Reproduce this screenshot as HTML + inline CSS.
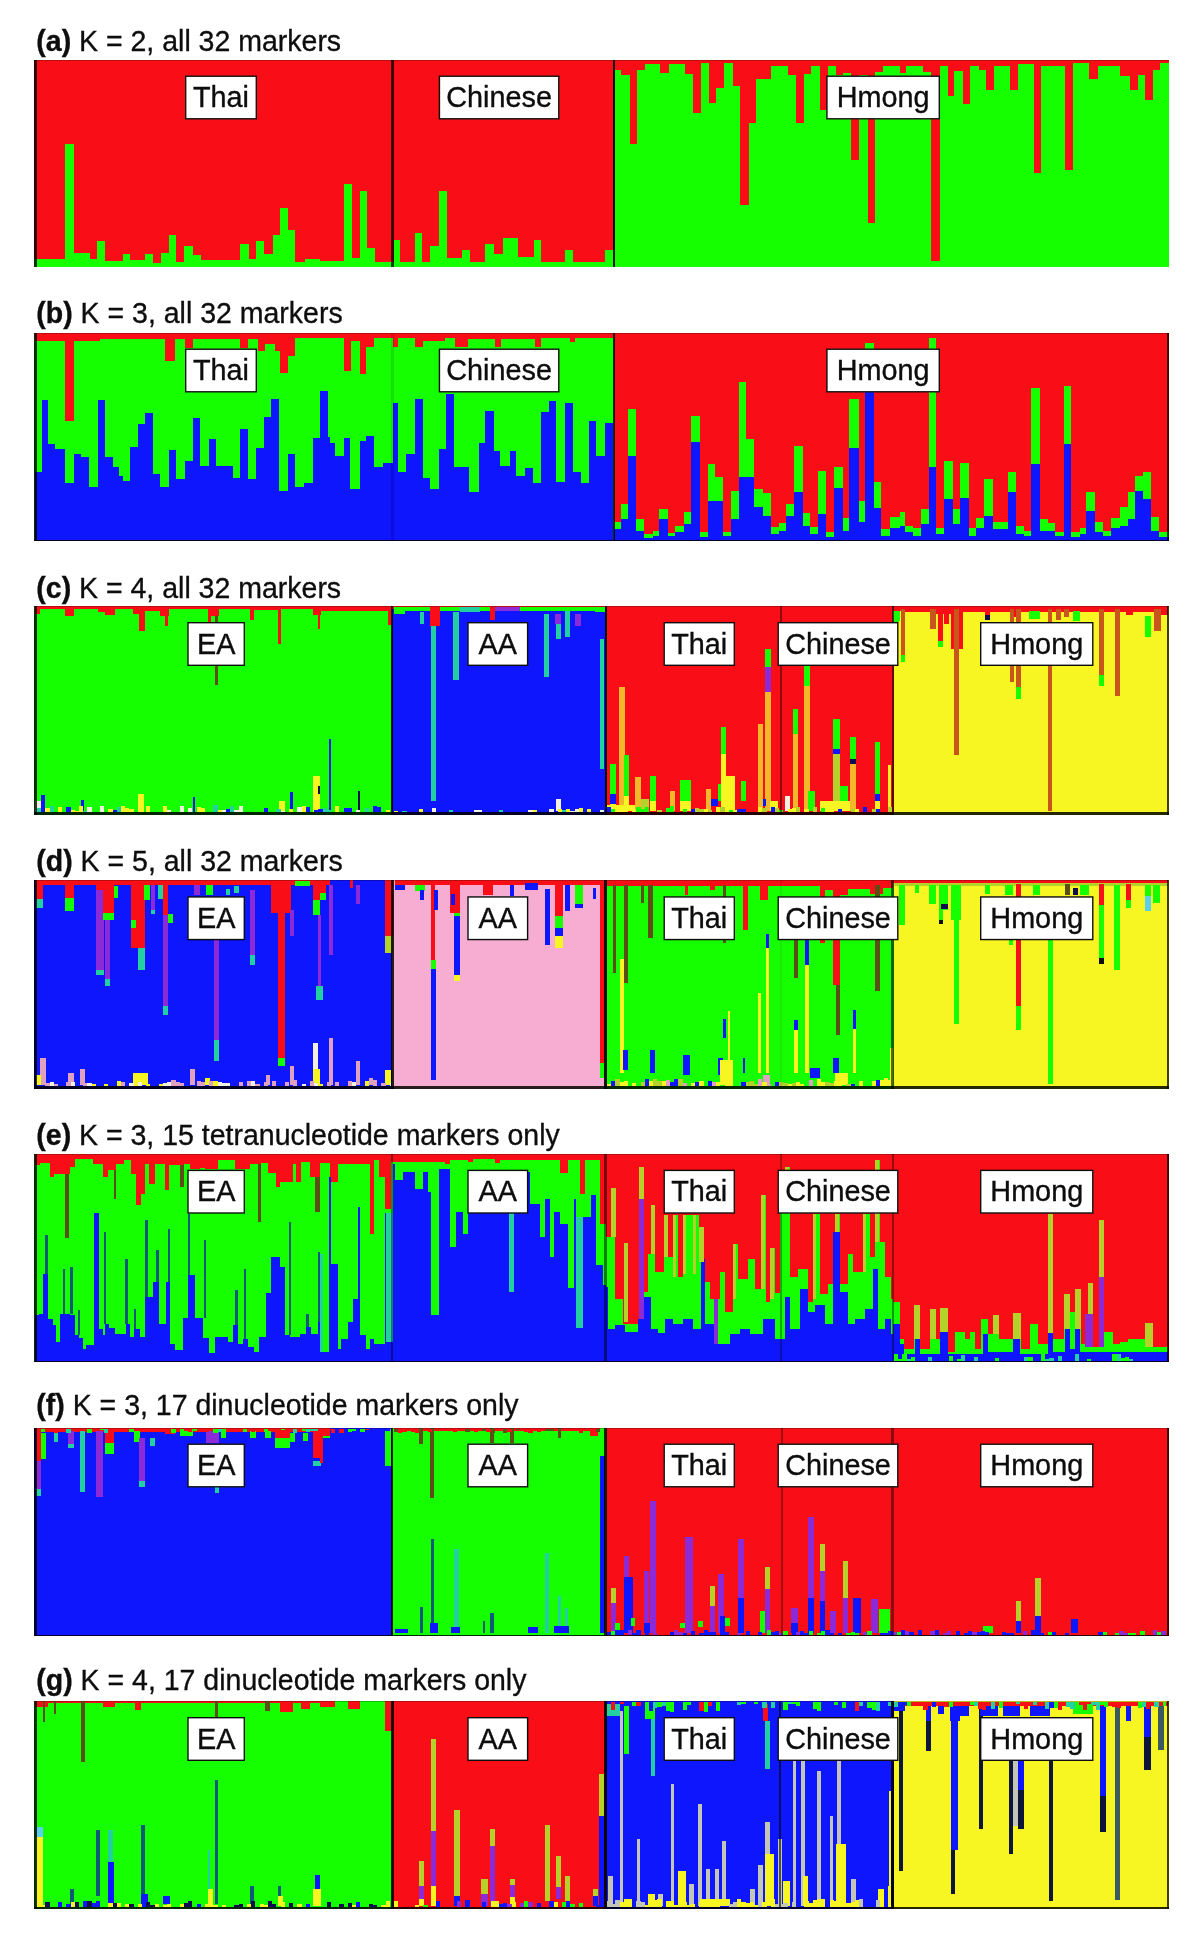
<!DOCTYPE html><html><head><meta charset="utf-8"><style>html,body{margin:0;padding:0;background:#fff;width:1200px;height:1940px;overflow:hidden}svg{display:block}text{font-family:"Liberation Sans",sans-serif}</style></head><body>
<svg width="1200" height="1940" viewBox="0 0 1200 1940" shape-rendering="crispEdges">
<defs><filter id="soft" x="-1%" y="-5%" width="102%" height="110%"><feGaussianBlur stdDeviation="0.5"/></filter><filter id="softt" x="-5%" y="-20%" width="110%" height="140%"><feGaussianBlur stdDeviation="0.3"/></filter></defs>
<g filter="url(#soft)">
<rect x="34" y="59.5" width="580" height="207.5" fill="#f90d16"/>
<path fill="#16ff00" d="M34 259h31V267h-31zM65 144h9V267h-9zM74 252.5h16V267h-16zM90 259h7V267h-7zM97 240.5h8V267h-8zM105 261h17.5V267h-17.5zM122.5 254h7.5V267h-7.5zM130 260h15V267h-15zM145 254h7.5V267h-7.5zM152.5 262.5h8.5V267h-8.5zM161 252.5h8V267h-8zM169 235h7V267h-7zM176 262h8V267h-8zM184 246h8.5V267h-8.5zM192.5 255h8.5V267h-8.5zM201 260h39V267h-39zM240 244h9V267h-9zM249 259h7V267h-7zM256 240.5h8V267h-8zM264 254h8.5V267h-8.5zM272.5 234.5h7.5V267h-7.5zM280 208h7.5V267h-7.5zM287.5 230h7.5V267h-7.5zM295 262h10V267h-10zM305 259h15V267h-15zM320 261h24V267h-24zM344 184h8V267h-8zM352 258h8V267h-8zM360 190.75h7V267h-7zM367 248h8V267h-8zM375 262h19V267h-19zM394 240h5.5V267h-5.5zM399.5 262h15V267h-15zM414.5 233h7.5V267h-7.5zM422 262h8V267h-8zM430 246h9V267h-9zM439 190.75h8V267h-8zM447 258h15V267h-15zM462 250h8V267h-8zM470 262h15V267h-15zM485 244h9V267h-9zM494 254h8.5V267h-8.5zM502.5 238h15V267h-15zM517.5 257h16.5V267h-16.5zM534 240h7V267h-7zM541 262h24V267h-24zM565 250h7.5V267h-7.5zM572.5 262h32.5V267h-32.5zM605 250h9V267h-9z"/>
<rect x="614" y="59.5" width="555" height="207.5" fill="#16ff00"/>
<path fill="#f90d16" d="M614 59.5h7V70h-7zM621 59.5h9V75h-9zM630 59.5h7V143.75h-7zM637 59.5h8V70h-8zM645 59.5h15V64h-15zM660 59.5h9V72.5h-9zM669 59.5h16V64h-16zM685 59.5h7.5V74h-7.5zM692.5 59.5h8.5V113h-8.5zM701 59.5h8V63h-8zM709 59.5h7V102.5h-7zM716 59.5h8V87.5h-8zM724 59.5h8.5V63h-8.5zM732.5 59.5h7.5V86h-7.5zM740 59.5h9V205h-9zM749 59.5h7V122.5h-7zM756 59.5h15V79h-15zM771 59.5h16.5V66h-16.5zM787.5 59.5h8.5V75h-8.5zM796 59.5h8V122.5h-8zM804 59.5h7V74h-7zM811 59.5h9V66h-9zM820 59.5h7.5V110h-7.5zM827.5 59.5h8.5V66h-8.5zM836 59.5h7V75h-7zM843 59.5h8V72.5h-8zM851 59.5h8V160h-8zM859 59.5h8.5V75h-8.5zM867.5 59.5h7.5V222.5h-7.5zM875 59.5h7.5V72h-7.5zM882.5 59.5h17.5V66h-17.5zM900 59.5h6V72.5h-6zM906 59.5h16.5V66h-16.5zM922.5 59.5h8.5V72h-8.5zM931 59.5h8.5V261h-8.5zM939.5 59.5h8V66h-8zM947.5 59.5h6.5V96h-6.5zM954 59.5h8.5V71h-8.5zM962.5 59.5h7.5V104h-7.5zM970 59.5h9V66h-9zM979 59.5h7V70h-7zM986 59.5h8V90h-8zM994 59.5h16V66h-16zM1010 59.5h7.5V90h-7.5zM1017.5 59.5h16.5V64h-16.5zM1034 59.5h7V172.5h-7zM1041 59.5h24V66h-24zM1065 59.5h7.5V169.5h-7.5zM1072.5 59.5h16.5V63h-16.5zM1089 59.5h8.5V79h-8.5zM1097.5 59.5h22.5V66h-22.5zM1120 59.5h10V76h-10zM1130 59.5h7.5V90h-7.5zM1137.5 59.5h7.5V75h-7.5zM1145 59.5h7.5V100h-7.5zM1152.5 59.5h7.5V70h-7.5zM1160 59.5h9V63h-9z"/>
<rect x="391.4" y="59.5" width="2.2" height="207.5" fill="#000" opacity="0.75"/>
<rect x="612.9" y="59.5" width="2.2" height="207.5" fill="#000" opacity="0.9"/>
<rect x="34.2" y="59.5" width="2.5" height="207.5" fill="#000" opacity="0.8"/>
<rect x="1166.5" y="59.5" width="2.5" height="207.5" fill="#000" opacity="0.0"/>
<rect x="34" y="59.5" width="1135" height="1" fill="#000" opacity="0.25"/>
</g>
<g filter="url(#softt)">
<rect x="185.7" y="76.2" width="70.6" height="42.6" fill="#fff" stroke="#111" stroke-width="1.4" shape-rendering="auto"/>
<text transform="translate(221 107.2) scale(1 1.03)" font-size="28.8" fill="#0a0a0a" stroke="#0a0a0a" stroke-width="0.35" text-anchor="middle">Thai</text>
<rect x="439.45" y="76.2" width="119.35" height="42.6" fill="#fff" stroke="#111" stroke-width="1.4" shape-rendering="auto"/>
<text transform="translate(499.12 107.2) scale(1 1.03)" font-size="28.8" fill="#0a0a0a" stroke="#0a0a0a" stroke-width="0.35" text-anchor="middle">Chinese</text>
<rect x="826.95" y="76.2" width="112.35" height="42.6" fill="#fff" stroke="#111" stroke-width="1.4" shape-rendering="auto"/>
<text transform="translate(883.12 107.2) scale(1 1.03)" font-size="28.8" fill="#0a0a0a" stroke="#0a0a0a" stroke-width="0.35" text-anchor="middle">Hmong</text>
<text transform="translate(36.3 50.75) scale(1 1.03)" font-size="28.5" fill="#0a0a0a" stroke="#0a0a0a" stroke-width="0.3"><tspan font-weight="bold">(a)</tspan>&#160;K = 2, all 32 markers</text>
</g>
<g filter="url(#soft)">
<rect x="34" y="332.5" width="580" height="208.5" fill="#16ff00"/>
<rect x="614" y="332.5" width="555" height="208.5" fill="#f90d16"/>
<path fill="#f90d16" d="M35 332.5h30V340.5h-30zM65 332.5h8.75V420.5h-8.75zM73.75 332.5h26.25V340.5h-26.25zM100 332.5h65V339.25h-65zM165 332.5h10V360.5h-10zM175 332.5h10V339.25h-10zM185 332.5h7.5V348h-7.5zM192.5 332.5h47.5V339.25h-47.5zM240 332.5h7.5V348h-7.5zM247.5 332.5h10V339.25h-10zM257.5 332.5h7.5V350.5h-7.5zM265 332.5h10V344.25h-10zM275 332.5h5V350.5h-5zM280 332.5h7.5V373h-7.5zM287.5 332.5h7.5V355.5h-7.5zM295 332.5h35V338h-35z"/>
<path fill="#f90d16" d="M320 332.5h23.75V338h-23.75zM343.75 332.5h7.5V370.5h-7.5zM351.25 332.5h8.75V340.5h-8.75zM360 332.5h6.25V374.25h-6.25zM366.25 332.5h7.5V346.75h-7.5zM373.75 332.5h18.75V338h-18.75zM392.5 332.5h5V346.75h-5zM397.5 332.5h17.5V338h-17.5zM415 332.5h7.5V346.75h-7.5zM422.5 332.5h22.5V340.5h-22.5zM445 332.5h10V338h-10zM455 332.5h12.5V346.75h-12.5zM467.5 332.5h27.5V339.25h-27.5zM495 332.5h6.25V346.75h-6.25zM501.25 332.5h33.75V339.25h-33.75zM535 332.5h6.25V346.75h-6.25zM541.25 332.5h28.75V338h-28.75zM570 332.5h5V341.75h-5zM575 332.5h38V338h-38z"/>
<path fill="#0c12fc" d="M35 471.75h7V541h-7zM42 400h6V541h-6zM48 444.25h7V541h-7zM55 449.25h10V541h-10zM65 483h8.75V541h-8.75zM73.75 454.25h7.5V541h-7.5zM81.25 456.75h8V541h-8zM89.25 486.75h8.25V541h-8.25zM97.5 400h7.5V541h-7.5zM105 456.75h7.5V541h-7.5zM112.5 466.75h6.25V541h-6.25zM118.75 475.5h4.25V541h-4.25zM123 480.5h7V541h-7zM130 446.75h7.5V541h-7.5zM137.5 424.25h7.5V541h-7.5zM145 412.5h7.5V541h-7.5zM152.5 474.25h7.5V541h-7.5zM160 486.75h8.75V541h-8.75zM168.75 450h7.5V541h-7.5zM176.25 479.25h8.75V541h-8.75zM185 460.5h7.5V541h-7.5zM192.5 418h7.5V541h-7.5zM200 465.5h8.75V541h-8.75zM208.75 439.25h7.5V541h-7.5zM216.25 465.5h16.25V541h-16.25zM232.5 478h7.5V541h-7.5zM240 429.25h7.5V541h-7.5zM247.5 479.25h8.75V541h-8.75zM256.25 448h7.5V541h-7.5zM263.75 416.75h7.5V541h-7.5zM271.25 399.25h7.5V541h-7.5zM278.75 490.5h8.75V541h-8.75zM287.5 454.25h7.5V541h-7.5zM295 486.75h8.75V541h-8.75zM303.75 483h8.75V541h-8.75zM312.5 438h7.5V541h-7.5zM320 390.5h7.5V541h-7.5zM327.5 436.75h2.5V541h-2.5z"/>
<path fill="#0c12fc" d="M320 390.5h6.25V541h-6.25zM326.25 443h8.75V541h-8.75zM335 455.5h8.75V541h-8.75zM343.75 438h6.25V541h-6.25zM350 489.25h10V541h-10zM360 440.5h6.25V541h-6.25zM366.25 435.5h7.5V541h-7.5zM373.75 466.75h8.75V541h-8.75zM382.5 463h10V541h-10zM392.5 403h5.5V541h-5.5zM398 471.75h8.25V541h-8.25zM406.25 454.25h8.25V541h-8.25zM414.5 399.25h8V541h-8zM422.5 478h7.5V541h-7.5zM430 489.25h8.75V541h-8.75zM438.75 449.25h7.5V541h-7.5zM446.25 393.5h7.5V541h-7.5zM453.75 466.75h15V541h-15zM468.75 491.75h10V541h-10zM478.75 443h6.25V541h-6.25zM485 410.5h8.75V541h-8.75zM493.75 450.5h6.25V541h-6.25zM500 465.5h10V541h-10zM510 450.5h6.25V541h-6.25zM516.25 475.5h8.75V541h-8.75zM525 468h7.5V541h-7.5zM532.5 483h8.75V541h-8.75zM541.25 411.75h7.5V541h-7.5zM548.75 400.5h7.5V541h-7.5zM556.25 481.75h8.75V541h-8.75zM565 403h7.5V541h-7.5zM572.5 471.75h8.75V541h-8.75zM581.25 483h7.5V541h-7.5zM588.75 420.5h7.5V541h-7.5zM596.25 455.5h8.75V541h-8.75zM605 423h8V541h-8z"/>
<path fill="#16ff00" d="M613.75 521.75h7.5V541h-7.5zM621.25 504.25h6.25V541h-6.25zM627.5 409.25h8.75V541h-8.75zM636.25 519.25h7.5V541h-7.5zM643.75 534.25h8.75V541h-8.75zM652.5 530.5h6.25V541h-6.25zM658.75 509.25h8.75V541h-8.75zM667.5 533h7.5V541h-7.5zM675 525.5h8.75V541h-8.75zM683.75 511.75h7.5V541h-7.5zM691.25 415.5h8.75V541h-8.75zM700 531.75h7.5V541h-7.5zM707.5 464.25h7.5V541h-7.5zM715 476.75h7.5V541h-7.5zM722.5 531.75h8.75V541h-8.75zM731.25 490.5h7.5V541h-7.5zM738.75 381.75h7.5V541h-7.5zM746.25 439.25h7.5V541h-7.5zM753.75 489.25h8.75V541h-8.75zM762.5 493h8.75V541h-8.75zM771.25 526.75h7.5V541h-7.5zM778.75 523h7.5V541h-7.5zM786.25 504.25h7.5V541h-7.5zM793.75 445.5h8.75V541h-8.75zM802.5 513h7.5V541h-7.5zM810 526.75h7.5V541h-7.5zM817.5 470.5h8.75V541h-8.75zM826.25 531.75h7.5V541h-7.5zM833.75 466.75h8.75V541h-8.75zM842.5 518h6.25V541h-6.25zM848.75 399.25h10V541h-10zM858.75 500.5h6.25V541h-6.25zM865 343h8.75V541h-8.75zM873.75 481.75h7.5V541h-7.5zM881.25 529.25h8.75V541h-8.75zM890 516.75h10V541h-10z"/>
<path fill="#0c12fc" d="M613.75 529.25h7.5V541h-7.5zM621.25 519.25h6.25V541h-6.25zM627.5 455.5h8.75V541h-8.75zM636.25 530.5h7.5V541h-7.5zM643.75 538h8.75V541h-8.75zM652.5 535.5h6.25V541h-6.25zM658.75 519.25h8.75V541h-8.75zM667.5 535.5h7.5V541h-7.5zM675 531.75h8.75V541h-8.75zM683.75 524.25h7.5V541h-7.5zM691.25 441.75h8.75V541h-8.75zM700 536.75h7.5V541h-7.5zM707.5 500.5h15V541h-15zM722.5 535.5h8.75V541h-8.75zM731.25 519.25h7.5V541h-7.5zM738.75 476.75h15V541h-15zM753.75 506.75h8.75V541h-8.75zM762.5 515.5h8.75V541h-8.75zM771.25 534.25h7.5V541h-7.5zM778.75 530.5h7.5V541h-7.5zM786.25 515.5h7.5V541h-7.5zM793.75 491.75h8.75V541h-8.75zM802.5 525.5h7.5V541h-7.5zM810 534.25h7.5V541h-7.5zM817.5 514.25h8.75V541h-8.75zM826.25 536.75h7.5V541h-7.5zM833.75 488h8.75V541h-8.75zM842.5 530.5h6.25V541h-6.25zM848.75 448h10V541h-10zM858.75 521.75h6.25V541h-6.25zM865 391.75h8.75V541h-8.75zM873.75 508h7.5V541h-7.5zM881.25 535.5h8.75V541h-8.75zM890 528h10V541h-10z"/>
<path fill="#16ff00" d="M900 511.75h5V541h-5zM905 525.5h7.5V541h-7.5zM912.5 528h8.75V541h-8.75zM921.25 509.25h7.5V541h-7.5zM928.75 338h7.5V541h-7.5zM936.25 528h7.5V541h-7.5zM943.75 460.5h8.75V541h-8.75zM952.5 509.25h7.5V541h-7.5zM960 463h8.75V541h-8.75zM968.75 528h7.5V541h-7.5zM976.25 518h7.5V541h-7.5zM983.75 479.25h8.75V541h-8.75zM992.5 521.75h15V541h-15zM1007.5 471.75h8.75V541h-8.75zM1016.25 525.5h7.5V541h-7.5zM1023.75 530.5h7.5V541h-7.5zM1031.25 388h8.75V541h-8.75zM1040 519.25h7.5V541h-7.5zM1047.5 523h7.5V541h-7.5zM1055 531.75h8.75V541h-8.75zM1063.75 386h7.5V541h-7.5zM1071.25 531.75h8.75V541h-8.75zM1080 528h6.25V541h-6.25zM1086.25 491.75h8.75V541h-8.75zM1095 521.75h7.5V541h-7.5zM1102.5 530.5h8.75V541h-8.75zM1111.25 518h8.75V541h-8.75zM1120 506.75h7.5V541h-7.5zM1127.5 491.75h7.5V541h-7.5zM1135 475.5h7.5V541h-7.5zM1142.5 471.75h8.75V541h-8.75zM1151.25 516.75h7.5V541h-7.5zM1158.75 531.75h10.25V541h-10.25z"/>
<path fill="#0c12fc" d="M900 525.5h5V541h-5zM905 531.75h7.5V541h-7.5zM912.5 535.5h8.75V541h-8.75zM921.25 524.25h7.5V541h-7.5zM928.75 466.75h7.5V541h-7.5zM936.25 534.25h7.5V541h-7.5zM943.75 499.25h8.75V541h-8.75zM952.5 524.25h7.5V541h-7.5zM960 498h8.75V541h-8.75zM968.75 535.5h7.5V541h-7.5zM976.25 528h7.5V541h-7.5zM983.75 515.5h8.75V541h-8.75zM992.5 529.25h15V541h-15zM1007.5 491.75h8.75V541h-8.75zM1016.25 534.25h7.5V541h-7.5zM1023.75 535.5h7.5V541h-7.5zM1031.25 464.25h8.75V541h-8.75zM1040 530.5h15V541h-15zM1055 535.5h8.75V541h-8.75zM1063.75 444.25h7.5V541h-7.5zM1071.25 536.75h8.75V541h-8.75zM1080 534.25h6.25V541h-6.25zM1086.25 510.5h8.75V541h-8.75zM1095 531.75h7.5V541h-7.5zM1102.5 535.5h8.75V541h-8.75zM1111.25 528h8.75V541h-8.75zM1120 525.5h7.5V541h-7.5zM1127.5 519.25h7.5V541h-7.5zM1135 490.5h7.5V541h-7.5zM1142.5 499.25h8.75V541h-8.75zM1151.25 530.5h7.5V541h-7.5zM1158.75 536.75h10.25V541h-10.25z"/>
<rect x="391.4" y="332.5" width="2.2" height="208.5" fill="#000" opacity="0.12"/>
<rect x="612.9" y="332.5" width="2.2" height="208.5" fill="#000" opacity="0.8"/>
<rect x="34.2" y="332.5" width="2.5" height="208.5" fill="#000" opacity="0.8"/>
<rect x="1166.5" y="332.5" width="2.5" height="208.5" fill="#000" opacity="0.75"/>
<rect x="34" y="332.5" width="1135" height="1" fill="#000" opacity="0.25"/>
<rect x="34" y="540" width="1135" height="1" fill="#000" opacity="0.85"/>
</g>
<g filter="url(#softt)">
<rect x="185.7" y="349.2" width="70.6" height="42.6" fill="#fff" stroke="#111" stroke-width="1.4" shape-rendering="auto"/>
<text transform="translate(221 380.2) scale(1 1.03)" font-size="28.8" fill="#0a0a0a" stroke="#0a0a0a" stroke-width="0.35" text-anchor="middle">Thai</text>
<rect x="439.45" y="349.2" width="119.35" height="42.6" fill="#fff" stroke="#111" stroke-width="1.4" shape-rendering="auto"/>
<text transform="translate(499.12 380.2) scale(1 1.03)" font-size="28.8" fill="#0a0a0a" stroke="#0a0a0a" stroke-width="0.35" text-anchor="middle">Chinese</text>
<rect x="826.95" y="349.2" width="112.35" height="42.6" fill="#fff" stroke="#111" stroke-width="1.4" shape-rendering="auto"/>
<text transform="translate(883.12 380.2) scale(1 1.03)" font-size="28.8" fill="#0a0a0a" stroke="#0a0a0a" stroke-width="0.35" text-anchor="middle">Hmong</text>
<text transform="translate(36.3 322.9) scale(1 1.03)" font-size="28.5" fill="#0a0a0a" stroke="#0a0a0a" stroke-width="0.3"><tspan font-weight="bold">(b)</tspan>&#160;K = 3, all 32 markers</text>
</g>
<g filter="url(#soft)">
<rect x="34" y="606" width="358" height="208.75" fill="#16ff00"/>
<rect x="392" y="606" width="214" height="208.75" fill="#0c12fc"/>
<rect x="606" y="606" width="287.5" height="208.75" fill="#f90d16"/>
<rect x="893.5" y="606" width="275.5" height="208.75" fill="#f7f622"/>
<path fill="#f90d16" d="M35 606h5V613.5h-5zM40 606h25V608.5h-25zM65 606h8.75V616h-8.75zM73.75 606h23.75V608.5h-23.75zM97.5 606h7.5V612.25h-7.5zM105 606h10V614.75h-10zM115 606h17.5V608.5h-17.5zM132.5 606h6.25V613.5h-6.25zM138.75 606h6.25V631h-6.25zM145 606h15V611h-15zM160 606h5V616h-5zM165 606h2.5V626h-2.5zM167.5 606h1.25V616h-1.25zM168.75 606h38.75V608.5h-38.75zM207.5 606h3.75V622.25h-3.75zM211.25 606h7.5V616h-7.5zM218.75 606h31.25V608.5h-31.25zM250 606h3.75V619.75h-3.75zM253.75 606h23.75V609.75h-23.75zM277.5 606h3.75V643.5h-3.75zM281.25 606h31.25V608.5h-31.25zM312.5 606h5V614.75h-5zM317.5 606h2.5V628.5h-2.5zM320 606h1.25V614.75h-1.25zM321.25 606h8.75V609.75h-8.75z"/>
<path fill="#f90d16" d="M320 606h67.5V611h-67.5zM387.5 606h3.75V624.75h-3.75zM391.25 606h213.75V608.5h-213.75z"/>
<rect x="393.75" y="607.25" width="211.25" height="3.75" fill="#16ff00"/>
<rect x="460" y="607.25" width="20" height="5" fill="#20d0a0"/>
<rect x="495" y="607.25" width="25" height="3.75" fill="#8c2ad8"/>
<rect x="215" y="616" width="2.5" height="68.75" fill="#5c5012"/>
<rect x="312.5" y="776" width="7.5" height="36.25" fill="#f7f622"/>
<rect x="317.5" y="786" width="2.5" height="7.5" fill="#0a0a50"/>
<rect x="41.25" y="794.75" width="3.75" height="17.5" fill="#0c12fc"/>
<rect x="81.25" y="799.75" width="2.5" height="12.5" fill="#0c12fc"/>
<rect x="192.5" y="797.25" width="2.5" height="15" fill="#0c12fc"/>
<rect x="290" y="792.25" width="2.5" height="20" fill="#0c12fc"/>
<rect x="137.5" y="793.5" width="6.25" height="18.75" fill="#f7f622"/>
<rect x="35" y="801" width="6.25" height="11.25" fill="#f4f0e0"/>
<rect x="278.75" y="801" width="6.25" height="11.25" fill="#f7f622"/>
<rect x="302.5" y="807.25" width="7.5" height="5" fill="#0c12fc"/>
<rect x="328.75" y="738.5" width="2.5" height="73.75" fill="#0c12fc"/>
<rect x="357.5" y="791" width="2.5" height="21.25" fill="#0a0a50"/>
<rect x="393.75" y="607.25" width="11.25" height="6.25" fill="#16ff00"/>
<rect x="431.25" y="616" width="5" height="185" fill="#20d0a0"/>
<rect x="452.5" y="612.25" width="6.25" height="67.5" fill="#20d0a0"/>
<rect x="420" y="612.25" width="3.75" height="11.25" fill="#20d0a0"/>
<rect x="543.75" y="613.5" width="5" height="63.75" fill="#20d0a0"/>
<rect x="556.25" y="623.5" width="5" height="15" fill="#20d0a0"/>
<rect x="565" y="611" width="5" height="26.25" fill="#20d0a0"/>
<rect x="600" y="638.5" width="3.75" height="130" fill="#20d0a0"/>
<rect x="555" y="613.5" width="6.25" height="10" fill="#8c2ad8"/>
<rect x="575" y="613.5" width="6.25" height="12.5" fill="#8c2ad8"/>
<rect x="430" y="607.25" width="10" height="18.75" fill="#f90d16"/>
<rect x="490" y="607.25" width="5" height="12.5" fill="#f90d16"/>
<rect x="556.25" y="798.5" width="5" height="12.5" fill="#f4f0e0"/>
<rect x="595" y="607.25" width="10" height="5" fill="#16ff00"/>
<rect x="610" y="763.5" width="6.25" height="30" fill="#16ff00"/>
<rect x="610" y="793.5" width="6.25" height="10" fill="#0c12fc"/>
<rect x="610" y="803.5" width="6.25" height="7.5" fill="#f7f622"/>
<rect x="618.75" y="687.25" width="6.25" height="123.75" fill="#f2b82a"/>
<rect x="623.75" y="754.75" width="5" height="41.25" fill="#16ff00"/>
<rect x="623.75" y="796" width="5" height="15" fill="#f7f622"/>
<rect x="635" y="777.25" width="6.25" height="33.75" fill="#f2b82a"/>
<rect x="641.25" y="798.5" width="7.5" height="12.5" fill="#b4d22a"/>
<rect x="650" y="776" width="6.25" height="25" fill="#16ff00"/>
<rect x="650" y="801" width="6.25" height="10" fill="#f7f622"/>
<rect x="670" y="791" width="5" height="20" fill="#f2b82a"/>
<rect x="680" y="779.75" width="11.25" height="21.25" fill="#16ff00"/>
<rect x="680" y="801" width="11.25" height="10" fill="#f7f622"/>
<rect x="706.25" y="788.5" width="5" height="22.5" fill="#f2b82a"/>
<rect x="711.25" y="798.5" width="6.25" height="7.5" fill="#0c12fc"/>
<rect x="717.5" y="783.5" width="5" height="17.5" fill="#16ff00"/>
<rect x="721.25" y="727.25" width="5" height="26.25" fill="#16ff00"/>
<rect x="721.25" y="753.5" width="5" height="57.5" fill="#f7f622"/>
<rect x="726.25" y="776" width="8.75" height="35" fill="#f7f622"/>
<rect x="741.25" y="781" width="5" height="20" fill="#16ff00"/>
<rect x="757.5" y="723.5" width="5" height="87.5" fill="#f2b82a"/>
<rect x="765" y="648.5" width="6.25" height="18.75" fill="#16ff00"/>
<rect x="765" y="667.25" width="6.25" height="25" fill="#8c2ad8"/>
<rect x="765" y="692.25" width="6.25" height="118.75" fill="#f2b82a"/>
<rect x="762.5" y="798.5" width="3.75" height="7.5" fill="#0c12fc"/>
<rect x="770" y="801" width="7.5" height="10" fill="#f7f622"/>
<rect x="605" y="804.75" width="30" height="6.25" fill="#f7f622"/>
<rect x="785" y="796" width="5" height="15" fill="#f4f0e0"/>
<rect x="792.5" y="708.5" width="5" height="25" fill="#16ff00"/>
<rect x="792.5" y="733.5" width="5" height="77.5" fill="#f2b82a"/>
<rect x="803.75" y="666" width="6.25" height="20" fill="#16ff00"/>
<rect x="803.75" y="686" width="6.25" height="125" fill="#f2b82a"/>
<rect x="807.5" y="791" width="7.5" height="20" fill="#16ff00"/>
<rect x="832.5" y="718.5" width="7.5" height="30" fill="#16ff00"/>
<rect x="832.5" y="748.5" width="7.5" height="5" fill="#0c12fc"/>
<rect x="832.5" y="753.5" width="7.5" height="57.5" fill="#b4d22a"/>
<rect x="840" y="786" width="7.5" height="25" fill="#16ff00"/>
<rect x="850" y="737.25" width="6.25" height="21.25" fill="#16ff00"/>
<rect x="850" y="758.5" width="6.25" height="5" fill="#0a0a50"/>
<rect x="850" y="763.5" width="6.25" height="47.5" fill="#f2b82a"/>
<rect x="875" y="742.25" width="5" height="51.25" fill="#16ff00"/>
<rect x="875" y="793.5" width="5" height="7.5" fill="#0c12fc"/>
<rect x="875" y="801" width="5" height="10" fill="#f7f622"/>
<rect x="887.5" y="764.75" width="3.75" height="46.25" fill="#f7f622"/>
<rect x="820" y="801" width="30" height="10" fill="#f7f622"/>
<rect x="892.5" y="611" width="7.5" height="10" fill="#16ff00"/>
<path fill="#f90d16" d="M893.75 606h11.25V611h-11.25zM905 606h25V612.25h-25zM930 606h7.5V613.5h-7.5zM937.5 606h5V647.25h-5zM942.5 606h1.25V613.5h-1.25zM943.75 606h5V623.5h-5zM948.75 606h2.5V613.5h-2.5zM951.25 606h11.25V648.5h-11.25zM962.5 606h22.5V612.25h-22.5zM985 606h5V616h-5zM990 606h20V612.25h-20zM1010 606h10V617.25h-10zM1020 606h106.25V612.25h-106.25zM1126.25 606h6.25V614.75h-6.25zM1132.5 606h21.25V612.25h-21.25zM1153.75 606h7.5V631h-7.5zM1161.25 606h6.25V614.75h-6.25z"/>
<rect x="893.75" y="611" width="5" height="11.25" fill="#16ff00"/>
<rect x="901.25" y="608.5" width="3.75" height="53.75" fill="#c8561a"/>
<rect x="901.25" y="654.75" width="3.75" height="7.5" fill="#16ff00"/>
<rect x="930" y="608.5" width="6.25" height="20" fill="#c8561a"/>
<rect x="937.5" y="641" width="5" height="6.25" fill="#16ff00"/>
<rect x="953.75" y="608.5" width="5" height="146.25" fill="#c8561a"/>
<rect x="985" y="614.75" width="5" height="5" fill="#0a0a50"/>
<rect x="1010" y="608.5" width="3.75" height="73.75" fill="#c8561a"/>
<rect x="1016.25" y="608.5" width="5" height="78.75" fill="#c8561a"/>
<rect x="1016.25" y="687.25" width="5" height="11.25" fill="#16ff00"/>
<rect x="1028.75" y="611" width="11.25" height="7.5" fill="#16ff00"/>
<rect x="1048" y="608.5" width="4" height="202.5" fill="#c8561a"/>
<rect x="1056.25" y="608.5" width="5" height="11.25" fill="#c8561a"/>
<rect x="1063.75" y="608.5" width="5" height="8.75" fill="#c8561a"/>
<rect x="1072.5" y="611" width="7.5" height="10" fill="#16ff00"/>
<rect x="1098.75" y="608.5" width="5" height="66.25" fill="#c8561a"/>
<rect x="1098.75" y="674.75" width="5" height="11.25" fill="#16ff00"/>
<rect x="1115" y="608.5" width="5" height="87.5" fill="#c8561a"/>
<rect x="1145" y="616" width="6.25" height="21.25" fill="#16ff00"/>
<rect x="1153.75" y="608.5" width="7.5" height="22.5" fill="#c8561a"/>
<rect x="37" y="807.81" width="4.2" height="4.49" fill="#20d0a0"/>
<rect x="45.4" y="807.61" width="4.2" height="4.69" fill="#f7f622"/>
<rect x="49.6" y="806.19" width="4.2" height="6.11" fill="#20d0a0"/>
<rect x="58" y="806.86" width="4.2" height="5.44" fill="#f7f622"/>
<rect x="66.4" y="807.29" width="4.2" height="5.01" fill="#0c12fc"/>
<rect x="70.6" y="809.97" width="4.2" height="2.33" fill="#f7f622"/>
<rect x="74.8" y="810.72" width="4.2" height="1.58" fill="#f7f622"/>
<rect x="79" y="805.53" width="4.2" height="6.77" fill="#f7f622"/>
<rect x="83.2" y="810.63" width="4.2" height="1.67" fill="#20d0a0"/>
<rect x="87.4" y="806.85" width="4.2" height="5.45" fill="#f4f0e0"/>
<rect x="100" y="806.4" width="4.2" height="5.9" fill="#f4f0e0"/>
<rect x="108.4" y="808.79" width="4.2" height="3.51" fill="#f7f622"/>
<rect x="112.6" y="809.61" width="4.2" height="2.69" fill="#0c12fc"/>
<rect x="116.8" y="807.35" width="4.2" height="4.95" fill="#20d0a0"/>
<rect x="121" y="806.22" width="4.2" height="6.08" fill="#f7f622"/>
<rect x="125.2" y="807.58" width="4.2" height="4.72" fill="#f7f622"/>
<rect x="129.4" y="808.95" width="4.2" height="3.35" fill="#f7f622"/>
<rect x="146.2" y="806.07" width="4.2" height="6.23" fill="#f7f622"/>
<rect x="163" y="806.23" width="4.2" height="6.07" fill="#f7f622"/>
<rect x="167.2" y="810.12" width="4.2" height="2.18" fill="#f4f0e0"/>
<rect x="179.8" y="806.4" width="4.2" height="5.9" fill="#f4f0e0"/>
<rect x="188.2" y="808.45" width="4.2" height="3.85" fill="#f4f0e0"/>
<rect x="196.6" y="807.42" width="4.2" height="4.88" fill="#f7f622"/>
<rect x="200.8" y="807.57" width="4.2" height="4.73" fill="#f7f622"/>
<rect x="213.4" y="805.31" width="4.2" height="6.99" fill="#20d0a0"/>
<rect x="217.6" y="810.21" width="4.2" height="2.09" fill="#f7f622"/>
<rect x="221.8" y="809.71" width="4.2" height="2.59" fill="#f4f0e0"/>
<rect x="226" y="809.35" width="4.2" height="2.95" fill="#0c12fc"/>
<rect x="230.2" y="806.03" width="4.2" height="6.27" fill="#20d0a0"/>
<rect x="234.4" y="810.04" width="4.2" height="2.26" fill="#f4f0e0"/>
<rect x="238.6" y="806.02" width="4.2" height="6.28" fill="#f4f0e0"/>
<rect x="263.8" y="808.43" width="4.2" height="3.87" fill="#0c12fc"/>
<rect x="276.4" y="809.38" width="4.2" height="2.92" fill="#20d0a0"/>
<rect x="280.6" y="810.74" width="4.2" height="1.56" fill="#f4f0e0"/>
<rect x="289" y="808.73" width="4.2" height="3.57" fill="#f7f622"/>
<rect x="297.4" y="807.35" width="4.2" height="4.95" fill="#f4f0e0"/>
<rect x="301.6" y="805.75" width="4.2" height="6.55" fill="#f7f622"/>
<rect x="314.2" y="810.47" width="4.2" height="1.83" fill="#0c12fc"/>
<rect x="318.4" y="808.77" width="4.2" height="3.53" fill="#0c12fc"/>
<rect x="322.6" y="807.54" width="4.2" height="4.76" fill="#20d0a0"/>
<rect x="326.8" y="809.78" width="4.2" height="2.52" fill="#20d0a0"/>
<rect x="335.2" y="806.47" width="4.2" height="5.83" fill="#f7f622"/>
<rect x="343.6" y="807.67" width="4.2" height="4.63" fill="#0c12fc"/>
<rect x="347.8" y="808.05" width="4.2" height="4.25" fill="#0c12fc"/>
<rect x="356.2" y="809.77" width="4.2" height="2.53" fill="#f4f0e0"/>
<rect x="364.6" y="807.5" width="4.2" height="4.8" fill="#20d0a0"/>
<rect x="373" y="806.35" width="4.2" height="5.95" fill="#0c12fc"/>
<rect x="377.2" y="806.72" width="4.2" height="5.58" fill="#0c12fc"/>
<rect x="385.6" y="809.56" width="4.2" height="2.74" fill="#f7f622"/>
<rect x="389.8" y="805.53" width="0.2" height="6.77" fill="#20d0a0"/>
<rect x="394" y="810.54" width="4.2" height="1.76" fill="#f7f622"/>
<rect x="402.4" y="810.75" width="4.2" height="1.55" fill="#20d0a0"/>
<rect x="419.2" y="809.46" width="4.2" height="2.84" fill="#f7f622"/>
<rect x="431.8" y="808.44" width="4.2" height="3.86" fill="#f4f0e0"/>
<rect x="448.6" y="810.03" width="4.2" height="2.27" fill="#20d0a0"/>
<rect x="473.8" y="809.83" width="4.2" height="2.47" fill="#f4f0e0"/>
<rect x="478" y="809.62" width="4.2" height="2.68" fill="#f4f0e0"/>
<rect x="499" y="810.07" width="4.2" height="2.23" fill="#20d0a0"/>
<rect x="528.4" y="810.04" width="4.2" height="2.26" fill="#f4f0e0"/>
<rect x="532.6" y="809.64" width="4.2" height="2.66" fill="#f7f622"/>
<rect x="549.4" y="809.12" width="4.2" height="3.18" fill="#f4f0e0"/>
<rect x="557.8" y="809.22" width="4.2" height="3.08" fill="#f7f622"/>
<rect x="562" y="809.71" width="4.2" height="2.59" fill="#20d0a0"/>
<rect x="566.2" y="809.4" width="4.2" height="2.9" fill="#f7f622"/>
<rect x="570.4" y="810.65" width="4.2" height="1.65" fill="#f4f0e0"/>
<rect x="574.6" y="809.34" width="4.2" height="2.96" fill="#f4f0e0"/>
<rect x="578.8" y="808.46" width="4.2" height="3.84" fill="#f7f622"/>
<rect x="587.2" y="809.06" width="4.2" height="3.24" fill="#f7f622"/>
<rect x="599.8" y="810.08" width="4.2" height="2.22" fill="#f4f0e0"/>
<rect x="607" y="807.46" width="4.2" height="4.84" fill="#0c12fc"/>
<rect x="611.2" y="808.7" width="4.2" height="3.6" fill="#16ff00"/>
<rect x="615.4" y="806.75" width="4.2" height="5.55" fill="#f7f622"/>
<rect x="619.6" y="806.89" width="4.2" height="5.41" fill="#f7f622"/>
<rect x="623.8" y="808.22" width="4.2" height="4.08" fill="#f7f622"/>
<rect x="632.2" y="809.98" width="4.2" height="2.32" fill="#f7f622"/>
<rect x="636.4" y="807.21" width="4.2" height="5.09" fill="#16ff00"/>
<rect x="640.6" y="808.8" width="4.2" height="3.5" fill="#16ff00"/>
<rect x="644.8" y="806.88" width="4.2" height="5.42" fill="#16ff00"/>
<rect x="657.4" y="810.05" width="4.2" height="2.25" fill="#b4d22a"/>
<rect x="665.8" y="807.75" width="4.2" height="4.55" fill="#16ff00"/>
<rect x="670" y="806.44" width="4.2" height="5.86" fill="#16ff00"/>
<rect x="682.6" y="809.17" width="4.2" height="3.13" fill="#16ff00"/>
<rect x="691" y="809.31" width="4.2" height="2.99" fill="#0c12fc"/>
<rect x="695.2" y="808.12" width="4.2" height="4.18" fill="#b4d22a"/>
<rect x="699.4" y="809.2" width="4.2" height="3.1" fill="#b4d22a"/>
<rect x="703.6" y="809.38" width="4.2" height="2.92" fill="#f7f622"/>
<rect x="707.8" y="810.01" width="4.2" height="2.29" fill="#b4d22a"/>
<rect x="716.2" y="807.43" width="4.2" height="4.87" fill="#f7f622"/>
<rect x="720.4" y="807.26" width="4.2" height="5.04" fill="#b4d22a"/>
<rect x="724.6" y="807.01" width="4.2" height="5.29" fill="#f7f622"/>
<rect x="728.8" y="809.99" width="4.2" height="2.31" fill="#16ff00"/>
<rect x="733" y="809.69" width="4.2" height="2.61" fill="#f7f622"/>
<rect x="737.2" y="809.2" width="4.2" height="3.1" fill="#0c12fc"/>
<rect x="741.4" y="808.72" width="4.2" height="3.58" fill="#0c12fc"/>
<rect x="758.2" y="806.54" width="4.2" height="5.76" fill="#f7f622"/>
<rect x="762.4" y="808.49" width="4.2" height="3.81" fill="#b4d22a"/>
<rect x="770.8" y="806.64" width="4.2" height="5.66" fill="#0c12fc"/>
<rect x="775" y="807.71" width="4.2" height="4.59" fill="#b4d22a"/>
<rect x="779.2" y="810.45" width="4.2" height="1.85" fill="#16ff00"/>
<rect x="787.6" y="808.62" width="4.2" height="3.68" fill="#f7f622"/>
<rect x="791.8" y="808.1" width="4.2" height="4.2" fill="#f7f622"/>
<rect x="796" y="807.47" width="4.2" height="4.83" fill="#b4d22a"/>
<rect x="804.4" y="808.9" width="4.2" height="3.4" fill="#f7f622"/>
<rect x="812.8" y="807.19" width="4.2" height="5.11" fill="#b4d22a"/>
<rect x="821.2" y="807.51" width="4.2" height="4.79" fill="#16ff00"/>
<rect x="825.4" y="807.25" width="4.2" height="5.05" fill="#f7f622"/>
<rect x="829.6" y="809.12" width="4.2" height="3.18" fill="#f7f622"/>
<rect x="838" y="808.76" width="4.2" height="3.54" fill="#0c12fc"/>
<rect x="850.6" y="808.6" width="4.2" height="3.7" fill="#b4d22a"/>
<rect x="854.8" y="809.49" width="4.2" height="2.81" fill="#f7f622"/>
<rect x="863.2" y="807.1" width="4.2" height="5.2" fill="#0c12fc"/>
<rect x="871.6" y="808.55" width="4.2" height="3.75" fill="#b4d22a"/>
<rect x="875.8" y="808.59" width="4.2" height="3.71" fill="#0c12fc"/>
<rect x="888.4" y="807.26" width="3.6" height="5.04" fill="#b4d22a"/>
<rect x="390.7" y="606" width="2.2" height="208.75" fill="#000" opacity="0.85"/>
<rect x="604.9" y="606" width="2.2" height="208.75" fill="#000" opacity="0.9"/>
<rect x="779.9" y="606" width="2.2" height="208.75" fill="#000" opacity="0.45"/>
<rect x="891.9" y="606" width="2.2" height="208.75" fill="#000" opacity="0.6"/>
<rect x="34.2" y="606" width="2.5" height="208.75" fill="#000" opacity="0.8"/>
<rect x="1166.5" y="606" width="2.5" height="208.75" fill="#000" opacity="0.75"/>
<rect x="34" y="606" width="1135" height="1" fill="#000" opacity="0.25"/>
<rect x="34" y="812.25" width="1135" height="2.5" fill="#000" opacity="0.85"/>
</g>
<g filter="url(#softt)">
<rect x="188" y="622.7" width="56.3" height="42.6" fill="#fff" stroke="#111" stroke-width="1.4" shape-rendering="auto"/>
<text transform="translate(216.15 653.7) scale(1 1.03)" font-size="28.8" fill="#0a0a0a" stroke="#0a0a0a" stroke-width="0.35" text-anchor="middle">EA</text>
<rect x="468" y="622.7" width="59.6" height="42.6" fill="#fff" stroke="#111" stroke-width="1.4" shape-rendering="auto"/>
<text transform="translate(497.8 653.7) scale(1 1.03)" font-size="28.8" fill="#0a0a0a" stroke="#0a0a0a" stroke-width="0.35" text-anchor="middle">AA</text>
<rect x="664.2" y="622.7" width="70.1" height="42.6" fill="#fff" stroke="#111" stroke-width="1.4" shape-rendering="auto"/>
<text transform="translate(699.25 653.7) scale(1 1.03)" font-size="28.8" fill="#0a0a0a" stroke="#0a0a0a" stroke-width="0.35" text-anchor="middle">Thai</text>
<rect x="778.2" y="622.7" width="119.6" height="42.6" fill="#fff" stroke="#111" stroke-width="1.4" shape-rendering="auto"/>
<text transform="translate(838 653.7) scale(1 1.03)" font-size="28.8" fill="#0a0a0a" stroke="#0a0a0a" stroke-width="0.35" text-anchor="middle">Chinese</text>
<rect x="980.7" y="622.7" width="112.1" height="42.6" fill="#fff" stroke="#111" stroke-width="1.4" shape-rendering="auto"/>
<text transform="translate(1036.75 653.7) scale(1 1.03)" font-size="28.8" fill="#0a0a0a" stroke="#0a0a0a" stroke-width="0.35" text-anchor="middle">Hmong</text>
<text transform="translate(36.3 598.3) scale(1 1.03)" font-size="28.5" fill="#0a0a0a" stroke="#0a0a0a" stroke-width="0.3"><tspan font-weight="bold">(c)</tspan>&#160;K = 4, all 32 markers</text>
</g>
<g filter="url(#soft)">
<rect x="34" y="880.25" width="358" height="208.25" fill="#0c12fc"/>
<rect x="392" y="880.25" width="214" height="208.25" fill="#f7add2"/>
<rect x="606" y="880.25" width="287.5" height="208.25" fill="#16ff00"/>
<rect x="893.5" y="880.25" width="275.5" height="208.25" fill="#f7f622"/>
<path fill="#f90d16" d="M35 880.25h295V885h-295z"/>
<rect x="36.25" y="880" width="6.25" height="18.75" fill="#f90d16"/>
<rect x="36.25" y="898.75" width="6.25" height="8.75" fill="#20d0a0"/>
<rect x="65" y="880" width="8.75" height="17.5" fill="#f90d16"/>
<rect x="65" y="897.5" width="8.75" height="13.75" fill="#16ff00"/>
<rect x="96.25" y="880" width="7.5" height="10" fill="#f90d16"/>
<rect x="96.25" y="890" width="7.5" height="82.5" fill="#8c2ad8"/>
<rect x="96.25" y="970" width="7.5" height="5" fill="#20d0a0"/>
<rect x="102.5" y="880" width="11.25" height="32.5" fill="#f90d16"/>
<rect x="102.5" y="912.5" width="11.25" height="7.5" fill="#16ff00"/>
<rect x="105" y="920" width="5" height="60" fill="#8c2ad8"/>
<rect x="105" y="978.75" width="5" height="7.5" fill="#20d0a0"/>
<rect x="113.75" y="886.25" width="3.75" height="11.25" fill="#16ff00"/>
<rect x="131.25" y="880" width="13.75" height="67.5" fill="#f90d16"/>
<rect x="137.5" y="947.5" width="7.5" height="22.5" fill="#20d0a0"/>
<rect x="131.25" y="920" width="5" height="7.5" fill="#16ff00"/>
<rect x="143.75" y="885" width="6.25" height="15" fill="#16ff00"/>
<rect x="151.25" y="885" width="3.75" height="27.5" fill="#8c2ad8"/>
<rect x="151.25" y="910" width="3.75" height="3.75" fill="#20d0a0"/>
<rect x="157.5" y="885" width="7.5" height="13.75" fill="#20d0a0"/>
<rect x="162.5" y="880" width="5" height="35" fill="#f90d16"/>
<rect x="162.5" y="915" width="5" height="95" fill="#8c2ad8"/>
<rect x="162.5" y="1006.25" width="5" height="8.75" fill="#20d0a0"/>
<rect x="167.5" y="913.75" width="5" height="8.75" fill="#16ff00"/>
<rect x="193.75" y="885" width="6.25" height="10" fill="#8c2ad8"/>
<rect x="206.25" y="885" width="6.25" height="10" fill="#16ff00"/>
<rect x="213.75" y="900" width="5" height="140" fill="#8c2ad8"/>
<rect x="213.75" y="1040" width="5" height="21.25" fill="#20d0a0"/>
<rect x="226.25" y="888.75" width="3.75" height="6.25" fill="#20d0a0"/>
<rect x="233.75" y="886.25" width="5" height="6.25" fill="#20d0a0"/>
<rect x="250" y="890" width="5" height="65" fill="#8c2ad8"/>
<rect x="250" y="955" width="5" height="10" fill="#20d0a0"/>
<rect x="271.25" y="880" width="20" height="32.5" fill="#f90d16"/>
<rect x="277.5" y="912.5" width="7.5" height="145" fill="#f90d16"/>
<rect x="277.5" y="1057.5" width="7.5" height="8.75" fill="#16ff00"/>
<rect x="290" y="910" width="3.75" height="26.25" fill="#8c2ad8"/>
<rect x="295" y="881.25" width="15" height="5" fill="#16ff00"/>
<rect x="312.5" y="880" width="7.5" height="20" fill="#f90d16"/>
<rect x="312.5" y="900" width="7.5" height="15" fill="#16ff00"/>
<rect x="317.5" y="915" width="3.75" height="72.5" fill="#8c2ad8"/>
<rect x="316.25" y="986.25" width="5" height="13.75" fill="#20d0a0"/>
<rect x="320" y="890" width="6.25" height="10" fill="#16ff00"/>
<rect x="40" y="1057.5" width="6.25" height="27.5" fill="#e0a0c0"/>
<rect x="36.25" y="1075" width="5" height="10" fill="#f7f622"/>
<rect x="67.5" y="1072.5" width="6.25" height="12.5" fill="#e0a0c0"/>
<rect x="80" y="1068.75" width="5" height="16.25" fill="#e0a0c0"/>
<rect x="132.5" y="1072.5" width="15" height="12.5" fill="#f7f622"/>
<rect x="190" y="1068.75" width="5" height="16.25" fill="#e0a0c0"/>
<rect x="290" y="1066.25" width="3.75" height="18.75" fill="#e0a0c0"/>
<rect x="312.5" y="1042.5" width="5" height="27.5" fill="#f4f0e0"/>
<rect x="312.5" y="1068.75" width="7.5" height="16.25" fill="#f7f622"/>
<rect x="266.25" y="1075" width="3.75" height="10" fill="#e0a0c0"/>
<rect x="205" y="1077.5" width="5" height="7.5" fill="#f7f622"/>
<rect x="320" y="880" width="6.25" height="12.5" fill="#f90d16"/>
<rect x="320" y="892.5" width="6.25" height="7.5" fill="#16ff00"/>
<rect x="328.75" y="885" width="3.75" height="70" fill="#8c2ad8"/>
<rect x="350" y="880" width="2.5" height="7.5" fill="#f90d16"/>
<rect x="356.25" y="885" width="3.75" height="18.75" fill="#8c2ad8"/>
<rect x="385" y="880" width="7.5" height="57.5" fill="#f90d16"/>
<rect x="385" y="936.25" width="7.5" height="16.25" fill="#b4d22a"/>
<rect x="328.75" y="1037.5" width="3.75" height="47.5" fill="#e0a0c0"/>
<rect x="356.25" y="1061.25" width="3.75" height="23.75" fill="#e0a0c0"/>
<rect x="368.75" y="1077.5" width="3.75" height="7.5" fill="#e0a0c0"/>
<rect x="385" y="1070" width="6.25" height="15" fill="#f7f622"/>
<rect x="320" y="986.25" width="2.5" height="13.75" fill="#20d0a0"/>
<rect x="394.5" y="880" width="208" height="4.5" fill="#f90d16"/>
<rect x="395" y="884.5" width="10" height="5.5" fill="#0c12fc"/>
<rect x="415" y="884.5" width="10" height="6.75" fill="#16ff00"/>
<rect x="420" y="890" width="3.75" height="10" fill="#0c12fc"/>
<rect x="431.25" y="880" width="3.75" height="80" fill="#f90d16"/>
<rect x="433.75" y="890" width="3.75" height="20" fill="#0c12fc"/>
<rect x="431.25" y="960" width="5" height="8.75" fill="#16ff00"/>
<rect x="431.25" y="968.75" width="5" height="111.25" fill="#0c12fc"/>
<rect x="450" y="880" width="10" height="32.5" fill="#f90d16"/>
<rect x="451.25" y="893.75" width="3.75" height="11.25" fill="#0c12fc"/>
<rect x="453.75" y="912.5" width="6.25" height="3.75" fill="#16ff00"/>
<rect x="453.75" y="916.25" width="6.25" height="58.75" fill="#0c12fc"/>
<rect x="453.75" y="975" width="6.25" height="6.25" fill="#f7f622"/>
<rect x="482.5" y="880" width="10" height="15" fill="#f90d16"/>
<rect x="510" y="884.5" width="3.75" height="11.75" fill="#0c12fc"/>
<rect x="525" y="882.5" width="12.5" height="7.5" fill="#0c12fc"/>
<rect x="545" y="888.75" width="5" height="56.25" fill="#0c12fc"/>
<rect x="555" y="880" width="7.5" height="36.25" fill="#f90d16"/>
<rect x="555" y="916.25" width="7.5" height="11.25" fill="#16ff00"/>
<rect x="555" y="927.5" width="7.5" height="8.75" fill="#0c12fc"/>
<rect x="555" y="936.25" width="7.5" height="11.25" fill="#f7f622"/>
<rect x="565" y="885" width="5" height="26.25" fill="#0c12fc"/>
<rect x="575" y="885" width="7.5" height="18.75" fill="#16ff00"/>
<rect x="575" y="903.75" width="7.5" height="3.75" fill="#0c12fc"/>
<rect x="592.5" y="887.5" width="3.75" height="11.25" fill="#0c12fc"/>
<rect x="600" y="880" width="4.25" height="182.5" fill="#f90d16"/>
<rect x="600" y="1062.5" width="5" height="15" fill="#16ff00"/>
<path fill="#f90d16" d="M606.25 880.25h78.75V886.25h-78.75zM685 880.25h2.5V895h-2.5zM687.5 880.25h22.5V886.25h-22.5zM710 880.25h5V890h-5zM715 880.25h45V886.25h-45zM760 880.25h7.5V900h-7.5zM767.5 880.25h52.5V886.25h-52.5zM820 880.25h12.5V890h-12.5zM832.5 880.25h15V895h-15zM847.5 880.25h22.5V888.75h-22.5zM870 880.25h12.5V893.75h-12.5zM882.5 880.25h10V887.5h-10z"/>
<rect x="612.5" y="885" width="3.75" height="87.5" fill="#5c5012"/>
<rect x="620" y="958.75" width="3.75" height="113.75" fill="#f7f622"/>
<rect x="623.75" y="885" width="3.75" height="97.5" fill="#5c5012"/>
<rect x="641.25" y="885" width="2.5" height="17.5" fill="#5c5012"/>
<rect x="647.5" y="885" width="5" height="52.5" fill="#5c5012"/>
<rect x="722.5" y="885" width="3.75" height="57.5" fill="#5c5012"/>
<rect x="742.5" y="882.5" width="5" height="47.5" fill="#f90d16"/>
<rect x="766.25" y="933.75" width="2.5" height="13.75" fill="#0c12fc"/>
<rect x="766.25" y="947.5" width="2.5" height="125" fill="#f7f622"/>
<rect x="757.5" y="992.5" width="3.75" height="80" fill="#f7f622"/>
<rect x="727.5" y="1011.25" width="2.5" height="61.25" fill="#f7f622"/>
<rect x="722.5" y="1018.75" width="3.75" height="18.75" fill="#0c12fc"/>
<rect x="622.5" y="1050" width="5" height="20" fill="#0c12fc"/>
<rect x="650" y="1050" width="5" height="22.5" fill="#0c12fc"/>
<rect x="682.5" y="1055" width="7.5" height="20" fill="#0c12fc"/>
<rect x="717.5" y="1057.5" width="5" height="17.5" fill="#0c12fc"/>
<rect x="742.5" y="1057.5" width="2.5" height="15" fill="#0c12fc"/>
<rect x="720" y="1060" width="12.5" height="25" fill="#f7f622"/>
<rect x="762.5" y="1075" width="7.5" height="10" fill="#e0a0c0"/>
<rect x="793.75" y="938.75" width="3.75" height="38.75" fill="#5c5012"/>
<rect x="793.75" y="1020" width="3.75" height="10" fill="#0c12fc"/>
<rect x="793.75" y="1030" width="3.75" height="42.5" fill="#f7f622"/>
<rect x="805" y="940" width="3.75" height="25" fill="#0c12fc"/>
<rect x="805" y="965" width="3.75" height="107.5" fill="#f7f622"/>
<rect x="820" y="885" width="5" height="57.5" fill="#f90d16"/>
<rect x="832.5" y="885" width="7.5" height="100" fill="#f90d16"/>
<rect x="836.25" y="985" width="3.75" height="50" fill="#5c5012"/>
<rect x="852.5" y="1010" width="3.75" height="18.75" fill="#0c12fc"/>
<rect x="852.5" y="1028.75" width="3.75" height="43.75" fill="#f7f622"/>
<rect x="875" y="885" width="5" height="106.25" fill="#5c5012"/>
<rect x="890" y="1047.5" width="2.5" height="37.5" fill="#f7f622"/>
<rect x="832.5" y="1057.5" width="6.25" height="15" fill="#0c12fc"/>
<rect x="810" y="1067.5" width="10" height="10" fill="#0c12fc"/>
<rect x="835" y="1072.5" width="12.5" height="12.5" fill="#f7f622"/>
<path fill="#f90d16" d="M892.5 880.25h275V883.75h-275z"/>
<rect x="892.5" y="882.5" width="275" height="3.75" fill="#b4d22a"/>
<rect x="898.75" y="885" width="6.25" height="40" fill="#16ff00"/>
<rect x="915" y="885" width="3.75" height="7.5" fill="#16ff00"/>
<rect x="928.75" y="885" width="7.5" height="18.75" fill="#16ff00"/>
<rect x="938.75" y="885" width="3.75" height="37.5" fill="#16ff00"/>
<rect x="938.75" y="920" width="3.75" height="3.75" fill="#101010"/>
<rect x="941.25" y="885" width="6.25" height="25" fill="#16ff00"/>
<rect x="941.25" y="903.75" width="6.25" height="5" fill="#0a0a50"/>
<rect x="951.25" y="885" width="10" height="35" fill="#16ff00"/>
<rect x="953.75" y="920" width="5" height="103.75" fill="#16ff00"/>
<rect x="985" y="885" width="5" height="8.75" fill="#16ff00"/>
<rect x="1005" y="885" width="7.5" height="10" fill="#16ff00"/>
<rect x="1008.75" y="940" width="3.75" height="5" fill="#16ff00"/>
<rect x="1016.25" y="883.75" width="5" height="122.5" fill="#f90d16"/>
<rect x="1016.25" y="1006.25" width="5" height="23.75" fill="#16ff00"/>
<rect x="1032.5" y="885" width="7.5" height="10" fill="#16ff00"/>
<rect x="1047.5" y="940" width="5" height="143.75" fill="#16ff00"/>
<rect x="1065" y="883.75" width="5" height="11.25" fill="#5c5012"/>
<rect x="1072.5" y="887.5" width="5" height="7.5" fill="#0a0a50"/>
<rect x="1080" y="885" width="8.75" height="10" fill="#16ff00"/>
<rect x="1098.75" y="883.75" width="5" height="21.25" fill="#f90d16"/>
<rect x="1098.75" y="905" width="5" height="52.5" fill="#16ff00"/>
<rect x="1098.75" y="957.5" width="5" height="6.25" fill="#101010"/>
<rect x="1113.75" y="885" width="6.25" height="85" fill="#16ff00"/>
<rect x="1126.25" y="883.75" width="5" height="16.25" fill="#f90d16"/>
<rect x="1126.25" y="900" width="5" height="7.5" fill="#16ff00"/>
<rect x="1145" y="885" width="6.25" height="11.25" fill="#16ff00"/>
<rect x="1145" y="896.25" width="6.25" height="15" fill="#5ad0f0"/>
<rect x="1152.5" y="885" width="7.5" height="17.5" fill="#16ff00"/>
<rect x="45.4" y="1083.32" width="4.2" height="2.68" fill="#e0a0c0"/>
<rect x="49.6" y="1081.86" width="4.2" height="4.14" fill="#f4f0e0"/>
<rect x="53.8" y="1084.4" width="4.2" height="1.6" fill="#e0a0c0"/>
<rect x="66.4" y="1082.08" width="4.2" height="3.92" fill="#e0a0c0"/>
<rect x="70.6" y="1082.01" width="4.2" height="3.99" fill="#f4f0e0"/>
<rect x="83.2" y="1082.59" width="4.2" height="3.41" fill="#e0a0c0"/>
<rect x="87.4" y="1082.66" width="4.2" height="3.34" fill="#f4f0e0"/>
<rect x="91.6" y="1084.08" width="4.2" height="1.92" fill="#f7f622"/>
<rect x="104.2" y="1084.29" width="4.2" height="1.71" fill="#f7f622"/>
<rect x="116.8" y="1080.75" width="4.2" height="5.25" fill="#f7f622"/>
<rect x="121" y="1081.6" width="4.2" height="4.4" fill="#e0a0c0"/>
<rect x="129.4" y="1082.57" width="4.2" height="3.43" fill="#f4f0e0"/>
<rect x="133.6" y="1084.1" width="4.2" height="1.9" fill="#f7f622"/>
<rect x="137.8" y="1081.52" width="4.2" height="4.48" fill="#f4f0e0"/>
<rect x="146.2" y="1083.5" width="4.2" height="2.5" fill="#f7f622"/>
<rect x="158.8" y="1083.65" width="4.2" height="2.35" fill="#f7f622"/>
<rect x="163" y="1083" width="4.2" height="3" fill="#f4f0e0"/>
<rect x="167.2" y="1082.13" width="4.2" height="3.87" fill="#f4f0e0"/>
<rect x="171.4" y="1080" width="4.2" height="6" fill="#e0a0c0"/>
<rect x="175.6" y="1081.83" width="4.2" height="4.17" fill="#e0a0c0"/>
<rect x="179.8" y="1082.51" width="4.2" height="3.49" fill="#e0a0c0"/>
<rect x="196.6" y="1080.76" width="4.2" height="5.24" fill="#e0a0c0"/>
<rect x="200.8" y="1082.38" width="4.2" height="3.62" fill="#e0a0c0"/>
<rect x="209.2" y="1081.44" width="4.2" height="4.56" fill="#e0a0c0"/>
<rect x="213.4" y="1080.97" width="4.2" height="5.03" fill="#f7f622"/>
<rect x="217.6" y="1082.08" width="4.2" height="3.92" fill="#f4f0e0"/>
<rect x="221.8" y="1082.88" width="4.2" height="3.12" fill="#f4f0e0"/>
<rect x="226" y="1083.02" width="4.2" height="2.98" fill="#f4f0e0"/>
<rect x="238.6" y="1082.32" width="4.2" height="3.68" fill="#e0a0c0"/>
<rect x="247" y="1081.25" width="4.2" height="4.75" fill="#e0a0c0"/>
<rect x="251.2" y="1080.88" width="4.2" height="5.12" fill="#f4f0e0"/>
<rect x="255.4" y="1083.77" width="4.2" height="2.23" fill="#e0a0c0"/>
<rect x="263.8" y="1081.59" width="4.2" height="4.41" fill="#e0a0c0"/>
<rect x="272.2" y="1080.78" width="4.2" height="5.22" fill="#e0a0c0"/>
<rect x="284.8" y="1081.76" width="4.2" height="4.24" fill="#e0a0c0"/>
<rect x="293.2" y="1080.08" width="4.2" height="5.92" fill="#e0a0c0"/>
<rect x="301.6" y="1083.63" width="4.2" height="2.37" fill="#f4f0e0"/>
<rect x="310" y="1080.98" width="4.2" height="5.02" fill="#e0a0c0"/>
<rect x="314.2" y="1083.46" width="4.2" height="2.54" fill="#f4f0e0"/>
<rect x="318.4" y="1083.85" width="4.2" height="2.15" fill="#f7f622"/>
<rect x="326.8" y="1081.67" width="4.2" height="4.33" fill="#e0a0c0"/>
<rect x="335.2" y="1082.35" width="4.2" height="3.65" fill="#e0a0c0"/>
<rect x="347.8" y="1080.75" width="4.2" height="5.25" fill="#e0a0c0"/>
<rect x="352" y="1081.66" width="4.2" height="4.34" fill="#f4f0e0"/>
<rect x="364.6" y="1081.38" width="4.2" height="4.62" fill="#f7f622"/>
<rect x="373" y="1080.3" width="4.2" height="5.7" fill="#e0a0c0"/>
<rect x="381.4" y="1083.26" width="4.2" height="2.74" fill="#e0a0c0"/>
<rect x="389.8" y="1082.86" width="1.2" height="3.14" fill="#f4f0e0"/>
<rect x="607" y="1083.52" width="4.2" height="2.48" fill="#f7f622"/>
<rect x="611.2" y="1081.02" width="4.2" height="4.98" fill="#0c12fc"/>
<rect x="615.4" y="1078.59" width="4.2" height="7.41" fill="#b4d22a"/>
<rect x="619.6" y="1081.68" width="4.2" height="4.32" fill="#f7f622"/>
<rect x="623.8" y="1080.92" width="4.2" height="5.08" fill="#f7f622"/>
<rect x="632.2" y="1083.05" width="4.2" height="2.95" fill="#f7f622"/>
<rect x="640.6" y="1081.92" width="4.2" height="4.08" fill="#b4d22a"/>
<rect x="644.8" y="1078.92" width="4.2" height="7.08" fill="#0c12fc"/>
<rect x="649" y="1080.99" width="4.2" height="5.01" fill="#f7f622"/>
<rect x="653.2" y="1079.2" width="4.2" height="6.8" fill="#b4d22a"/>
<rect x="657.4" y="1080.79" width="4.2" height="5.21" fill="#b4d22a"/>
<rect x="661.6" y="1080.94" width="4.2" height="5.06" fill="#f7f622"/>
<rect x="665.8" y="1080.48" width="4.2" height="5.52" fill="#e0a0c0"/>
<rect x="670" y="1081.72" width="4.2" height="4.28" fill="#0c12fc"/>
<rect x="674.2" y="1078.5" width="4.2" height="7.5" fill="#0c12fc"/>
<rect x="678.4" y="1079.34" width="4.2" height="6.66" fill="#b4d22a"/>
<rect x="682.6" y="1082.55" width="4.2" height="3.45" fill="#e0a0c0"/>
<rect x="691" y="1082.63" width="4.2" height="3.37" fill="#f7f622"/>
<rect x="695.2" y="1081.78" width="4.2" height="4.22" fill="#0c12fc"/>
<rect x="699.4" y="1081.32" width="4.2" height="4.68" fill="#f7f622"/>
<rect x="707.8" y="1080.87" width="4.2" height="5.13" fill="#0c12fc"/>
<rect x="712" y="1082.22" width="4.2" height="3.78" fill="#e0a0c0"/>
<rect x="716.2" y="1081.53" width="4.2" height="4.47" fill="#f7f622"/>
<rect x="724.6" y="1080.18" width="4.2" height="5.82" fill="#f7f622"/>
<rect x="728.8" y="1082.49" width="4.2" height="3.51" fill="#f7f622"/>
<rect x="741.4" y="1081.99" width="4.2" height="4.01" fill="#0c12fc"/>
<rect x="745.6" y="1081.5" width="4.2" height="4.5" fill="#b4d22a"/>
<rect x="749.8" y="1081.29" width="4.2" height="4.71" fill="#b4d22a"/>
<rect x="754" y="1083.66" width="4.2" height="2.34" fill="#b4d22a"/>
<rect x="758.2" y="1078.54" width="4.2" height="7.46" fill="#e0a0c0"/>
<rect x="762.4" y="1081.58" width="4.2" height="4.42" fill="#f7f622"/>
<rect x="766.6" y="1083.61" width="4.2" height="2.39" fill="#e0a0c0"/>
<rect x="775" y="1081.8" width="4.2" height="4.2" fill="#0c12fc"/>
<rect x="779.2" y="1082.03" width="4.2" height="3.97" fill="#b4d22a"/>
<rect x="783.4" y="1083.35" width="4.2" height="2.65" fill="#b4d22a"/>
<rect x="787.6" y="1084.42" width="4.2" height="1.58" fill="#f7f622"/>
<rect x="791.8" y="1082.67" width="4.2" height="3.33" fill="#b4d22a"/>
<rect x="796" y="1082.1" width="4.2" height="3.9" fill="#f7f622"/>
<rect x="800.2" y="1083.68" width="4.2" height="2.32" fill="#f7f622"/>
<rect x="808.6" y="1079.69" width="4.2" height="6.31" fill="#e0a0c0"/>
<rect x="817" y="1078.82" width="4.2" height="7.18" fill="#f7f622"/>
<rect x="821.2" y="1081.91" width="4.2" height="4.09" fill="#f7f622"/>
<rect x="825.4" y="1081.9" width="4.2" height="4.1" fill="#b4d22a"/>
<rect x="829.6" y="1083.14" width="4.2" height="2.86" fill="#b4d22a"/>
<rect x="833.8" y="1080.6" width="4.2" height="5.4" fill="#f7f622"/>
<rect x="838" y="1083.52" width="4.2" height="2.48" fill="#f7f622"/>
<rect x="846.4" y="1084.04" width="4.2" height="1.96" fill="#b4d22a"/>
<rect x="850.6" y="1083.53" width="4.2" height="2.47" fill="#0c12fc"/>
<rect x="859" y="1081.42" width="4.2" height="4.58" fill="#f7f622"/>
<rect x="871.6" y="1081.36" width="4.2" height="4.64" fill="#f7f622"/>
<rect x="875.8" y="1079.63" width="4.2" height="6.37" fill="#0c12fc"/>
<rect x="880" y="1080" width="4.2" height="6" fill="#f7f622"/>
<rect x="884.2" y="1078.32" width="4.2" height="7.68" fill="#f7f622"/>
<rect x="888.4" y="1080.01" width="3.6" height="5.99" fill="#f7f622"/>
<rect x="391.4" y="880.25" width="2.2" height="208.25" fill="#000" opacity="0.85"/>
<rect x="604.4" y="880.25" width="2.2" height="208.25" fill="#000" opacity="0.9"/>
<rect x="779.9" y="880.25" width="2.2" height="208.25" fill="#000" opacity="0.08"/>
<rect x="891.4" y="880.25" width="2.2" height="208.25" fill="#000" opacity="0.6"/>
<rect x="34.2" y="880.25" width="2.5" height="208.25" fill="#000" opacity="0.8"/>
<rect x="1166.5" y="880.25" width="2.5" height="208.25" fill="#000" opacity="0.75"/>
<rect x="34" y="880.25" width="1135" height="1" fill="#000" opacity="0.25"/>
<rect x="34" y="1086" width="1135" height="2.5" fill="#000" opacity="0.85"/>
</g>
<g filter="url(#softt)">
<rect x="188" y="896.95" width="56.3" height="42.6" fill="#fff" stroke="#111" stroke-width="1.4" shape-rendering="auto"/>
<text transform="translate(216.15 927.95) scale(1 1.03)" font-size="28.8" fill="#0a0a0a" stroke="#0a0a0a" stroke-width="0.35" text-anchor="middle">EA</text>
<rect x="468" y="896.95" width="59.6" height="42.6" fill="#fff" stroke="#111" stroke-width="1.4" shape-rendering="auto"/>
<text transform="translate(497.8 927.95) scale(1 1.03)" font-size="28.8" fill="#0a0a0a" stroke="#0a0a0a" stroke-width="0.35" text-anchor="middle">AA</text>
<rect x="664.2" y="896.95" width="70.1" height="42.6" fill="#fff" stroke="#111" stroke-width="1.4" shape-rendering="auto"/>
<text transform="translate(699.25 927.95) scale(1 1.03)" font-size="28.8" fill="#0a0a0a" stroke="#0a0a0a" stroke-width="0.35" text-anchor="middle">Thai</text>
<rect x="778.2" y="896.95" width="119.6" height="42.6" fill="#fff" stroke="#111" stroke-width="1.4" shape-rendering="auto"/>
<text transform="translate(838 927.95) scale(1 1.03)" font-size="28.8" fill="#0a0a0a" stroke="#0a0a0a" stroke-width="0.35" text-anchor="middle">Chinese</text>
<rect x="980.7" y="896.95" width="112.1" height="42.6" fill="#fff" stroke="#111" stroke-width="1.4" shape-rendering="auto"/>
<text transform="translate(1036.75 927.95) scale(1 1.03)" font-size="28.8" fill="#0a0a0a" stroke="#0a0a0a" stroke-width="0.35" text-anchor="middle">Hmong</text>
<text transform="translate(36.3 870.75) scale(1 1.03)" font-size="28.5" fill="#0a0a0a" stroke="#0a0a0a" stroke-width="0.3"><tspan font-weight="bold">(d)</tspan>&#160;K = 5, all 32 markers</text>
</g>
<g filter="url(#soft)">
<rect x="34" y="1153.7" width="572" height="208.05" fill="#16ff00"/>
<rect x="606" y="1153.7" width="563" height="208.05" fill="#f90d16"/>
<path fill="#f90d16" d="M35 1153.7h5V1165.25h-5zM40 1153.7h10V1162.75h-10zM50 1153.7h3.75V1176.5h-3.75zM53.75 1153.7h16.25V1174h-16.25zM70 1153.7h5V1166.5h-5zM75 1153.7h17.5V1159h-17.5zM92.5 1153.7h10V1164h-10zM102.5 1153.7h5V1176.5h-5zM107.5 1153.7h6.25V1170.25h-6.25zM113.75 1153.7h2.5V1199h-2.5zM116.25 1153.7h7.5V1164h-7.5zM123.75 1153.7h7.5V1160.25h-7.5zM131.25 1153.7h5V1174h-5zM136.25 1153.7h5V1205.25h-5zM141.25 1153.7h3.75V1194h-3.75zM145 1153.7h3.75V1164h-3.75zM148.75 1153.7h6.25V1184h-6.25zM155 1153.7h10V1164h-10zM165 1153.7h3.75V1190.25h-3.75zM168.75 1153.7h11.25V1165.25h-11.25zM180 1153.7h3.75V1186.5h-3.75zM183.75 1153.7h6.25V1164h-6.25zM190 1153.7h10V1169h-10zM200 1153.7h5V1167.75h-5zM205 1153.7h12.5V1169h-12.5zM217.5 1153.7h17.5V1160.25h-17.5zM235 1153.7h15V1169h-15zM250 1153.7h7.5V1164h-7.5zM257.5 1153.7h3.75V1221.5h-3.75zM261.25 1153.7h6.25V1162.75h-6.25zM267.5 1153.7h8.75V1172.75h-8.75zM276.25 1153.7h3.75V1186.5h-3.75zM280 1153.7h12.5V1181.5h-12.5zM292.5 1153.7h3.75V1164h-3.75zM296.25 1153.7h5V1181.5h-5zM301.25 1153.7h8.75V1161.5h-8.75zM310 1153.7h5V1176.5h-5zM315 1153.7h5V1211.5h-5zM320 1153.7h10V1162.75h-10z"/>
<path fill="#f90d16" d="M320 1153.7h10V1162.75h-10zM330 1153.7h7.5V1181.5h-7.5zM337.5 1153.7h32.5V1164h-32.5zM370 1153.7h3.75V1234h-3.75zM373.75 1153.7h5V1160.25h-5zM378.75 1153.7h6.25V1176.5h-6.25zM385 1153.7h6.25V1209h-6.25zM391.25 1153.7h53.75V1161.5h-53.75zM445 1153.7h5V1164h-5zM450 1153.7h17.5V1160.25h-17.5zM467.5 1153.7h5V1161.5h-5zM472.5 1153.7h22.5V1159h-22.5zM495 1153.7h5V1162.75h-5zM500 1153.7h60V1160.25h-60zM560 1153.7h7.5V1172.75h-7.5zM567.5 1153.7h12.5V1160.25h-12.5zM580 1153.7h5V1194h-5zM585 1153.7h15V1160.25h-15zM600 1153.7h6.25V1224h-6.25z"/>
<path fill="#0c12fc" d="M35 1315.25h3.75V1361.75h-3.75zM38.75 1314h3.75V1361.75h-3.75zM42.5 1274h5V1361.75h-5zM47.5 1319h5V1361.75h-5zM52.5 1325.25h3.75V1361.75h-3.75zM56.25 1341.5h3.75V1361.75h-3.75zM60 1314h10V1361.75h-10zM70 1315.25h5V1361.75h-5zM75 1335.25h3.75V1361.75h-3.75zM78.75 1337.75h3.75V1361.75h-3.75zM82.5 1349h3.75V1361.75h-3.75zM86.25 1345.25h7.5V1361.75h-7.5zM93.75 1212.75h5V1361.75h-5zM98.75 1329h3.75V1361.75h-3.75zM102.5 1335.25h2.5V1361.75h-2.5zM105 1324h3.75V1361.75h-3.75zM108.75 1327.75h6.25V1361.75h-6.25zM115 1334h11.25V1361.75h-11.25zM126.25 1324h3.75V1361.75h-3.75zM130 1336.5h3.75V1361.75h-3.75zM133.75 1329h6.25V1361.75h-6.25zM140 1336.5h5V1361.75h-5zM145 1296.5h7.5V1361.75h-7.5zM152.5 1281.5h6.25V1361.75h-6.25zM158.75 1324h7.5V1361.75h-7.5zM166.25 1281.5h3.75V1361.75h-3.75zM170 1344h5V1361.75h-5zM175 1350.25h7.5V1361.75h-7.5zM182.5 1317.75h5V1361.75h-5zM187.5 1275.25h7.5V1361.75h-7.5zM195 1317.75h7.5V1361.75h-7.5zM202.5 1337.75h6.25V1361.75h-6.25zM208.75 1352.75h6.25V1361.75h-6.25zM215 1336.5h12.5V1361.75h-12.5zM227.5 1341.5h5V1361.75h-5zM232.5 1325.25h5V1361.75h-5zM237.5 1344h5V1361.75h-5zM242.5 1339h5V1361.75h-5zM247.5 1346.5h6.25V1361.75h-6.25zM253.75 1351.5h5V1361.75h-5zM258.75 1336.5h7.5V1361.75h-7.5zM266.25 1292.75h5V1361.75h-5zM271.25 1256.5h8.75V1361.75h-8.75zM280 1266.5h5V1361.75h-5zM285 1335.25h5V1361.75h-5zM290 1336.5h10V1361.75h-10zM300 1334h6.25V1361.75h-6.25zM306.25 1326.5h5V1361.75h-5zM311.25 1334h6.25V1361.75h-6.25zM317.5 1321.5h3.75V1361.75h-3.75zM321.25 1351.5h8.75V1361.75h-8.75z"/>
<path fill="#0c12fc" d="M320 1254h2.5V1361.75h-2.5zM322.5 1351.5h6.25V1361.75h-6.25zM328.75 1176.5h2.5V1361.75h-2.5zM331.25 1264h6.25V1361.75h-6.25zM337.5 1349h3.75V1361.75h-3.75zM341.25 1339h6.25V1361.75h-6.25zM347.5 1321.5h5V1361.75h-5zM352.5 1299h5V1361.75h-5zM357.5 1206.5h2.5V1361.75h-2.5zM360 1335.25h6.25V1361.75h-6.25zM366.25 1349h3.75V1361.75h-3.75zM370 1339h3.75V1361.75h-3.75zM373.75 1344h11.25V1361.75h-11.25zM385 1212.75h7.5V1361.75h-7.5zM392.5 1164h2.5V1361.75h-2.5zM395 1180.25h7.5V1361.75h-7.5zM402.5 1171.5h12.5V1361.75h-12.5zM415 1189h7.5V1361.75h-7.5zM422.5 1171.5h5V1361.75h-5zM427.5 1191.5h3.75V1361.75h-3.75zM431.25 1315.25h7.5V1361.75h-7.5zM438.75 1169h11.25V1361.75h-11.25zM450 1246.5h6.25V1361.75h-6.25zM456.25 1211.5h6.25V1361.75h-6.25zM462.5 1234h5V1361.75h-5zM467.5 1171.5h7.5V1361.75h-7.5zM475 1170.25h33.75V1361.75h-33.75zM508.75 1291.5h5V1361.75h-5zM513.75 1171.5h16.25V1361.75h-16.25zM530 1204h10V1361.75h-10zM540 1236.5h5V1361.75h-5zM545 1199h5V1361.75h-5zM550 1256.5h3.75V1361.75h-3.75zM553.75 1211.5h6.25V1361.75h-6.25zM560 1224h7.5V1361.75h-7.5zM567.5 1287.75h6.25V1361.75h-6.25zM573.75 1199h2.5V1361.75h-2.5zM576.25 1327.75h6.25V1361.75h-6.25zM582.5 1216.5h8.75V1361.75h-8.75zM591.25 1195.25h5V1361.75h-5zM596.25 1265.25h6.25V1361.75h-6.25zM602.5 1285.25h3.75V1361.75h-3.75z"/>
<rect x="65" y="1174" width="3.75" height="63.75" fill="#5c5012"/>
<rect x="113.75" y="1170.25" width="2.5" height="28.75" fill="#5c5012"/>
<rect x="180" y="1165.25" width="3.75" height="21.25" fill="#5c5012"/>
<rect x="257.5" y="1164" width="3.75" height="57.5" fill="#5c5012"/>
<rect x="315" y="1176.5" width="5" height="35" fill="#5c5012"/>
<rect x="45" y="1235.25" width="2.5" height="38.75" fill="#0e5c74"/>
<rect x="62.5" y="1269" width="2.5" height="45" fill="#0e5c74"/>
<rect x="70" y="1266.5" width="2.5" height="47.5" fill="#0e5c74"/>
<rect x="77.5" y="1310.25" width="2.5" height="25" fill="#0e5c74"/>
<rect x="103.75" y="1231.5" width="2.5" height="92.5" fill="#0e5c74"/>
<rect x="125" y="1259" width="2.5" height="65" fill="#0e5c74"/>
<rect x="133.75" y="1309" width="2.5" height="20" fill="#0e5c74"/>
<rect x="145" y="1220.25" width="2.5" height="76.25" fill="#0e5c74"/>
<rect x="156.25" y="1250.25" width="2.5" height="31.25" fill="#0e5c74"/>
<rect x="167.5" y="1229" width="2.5" height="52.5" fill="#0e5c74"/>
<rect x="187.5" y="1214" width="2.5" height="61.25" fill="#0e5c74"/>
<rect x="203.75" y="1240.25" width="2.5" height="77.5" fill="#0e5c74"/>
<rect x="235" y="1290.25" width="2.5" height="35" fill="#0e5c74"/>
<rect x="243.75" y="1269" width="2.5" height="70" fill="#0e5c74"/>
<rect x="288.75" y="1221.5" width="2.5" height="113.75" fill="#0e5c74"/>
<rect x="306.25" y="1314" width="2.5" height="12.5" fill="#0e5c74"/>
<rect x="317.5" y="1251.5" width="2.5" height="70" fill="#0e5c74"/>
<rect x="386.25" y="1212.75" width="6.25" height="128.75" fill="#20d0a0"/>
<rect x="508.75" y="1171.5" width="5" height="120" fill="#20d0a0"/>
<rect x="576.25" y="1216.5" width="6.25" height="111.25" fill="#20d0a0"/>
<rect x="431.25" y="1191.5" width="6.25" height="123.75" fill="#16ff00"/>
<rect x="320" y="1254" width="3" height="97.5" fill="#20d0a0"/>
<path fill="#16ff00" d="M606.25 1236.5h8.75V1361.75h-8.75zM615 1299h7.5V1361.75h-7.5zM622.5 1324h15V1361.75h-15zM637.5 1319h6.25V1361.75h-6.25zM643.75 1291.5h3.75V1361.75h-3.75zM647.5 1254h7.5V1361.75h-7.5zM655 1271.5h8.75V1361.75h-8.75zM663.75 1215.25h1.25V1361.75h-1.25zM665 1256.5h7.5V1361.75h-7.5zM672.5 1215.25h5V1361.75h-5zM677.5 1276.5h5V1361.75h-5zM682.5 1215.25h16.25V1361.75h-16.25zM698.75 1226.5h5V1361.75h-5zM703.75 1281.5h6.25V1361.75h-6.25zM710 1299h10V1361.75h-10zM720 1271.5h5V1361.75h-5zM725 1311.5h7.5V1361.75h-7.5zM732.5 1244h5V1361.75h-5zM737.5 1279h10V1361.75h-10zM747.5 1259h7.5V1361.75h-7.5zM755 1289h6.25V1361.75h-6.25zM761.25 1195.25h5V1361.75h-5zM766.25 1301.5h3.75V1361.75h-3.75zM770 1247.75h5V1361.75h-5zM775 1292.75h5V1361.75h-5zM780 1211.5h5V1361.75h-5zM785 1166.5h5V1361.75h-5zM790 1276.5h7.5V1361.75h-7.5zM797.5 1269h10V1361.75h-10zM807.5 1301.5h5V1361.75h-5zM812.5 1214h7.5V1361.75h-7.5zM820 1294h7.5V1361.75h-7.5zM827.5 1284h7.5V1361.75h-7.5zM835 1214h5V1361.75h-5zM840 1284h7.5V1361.75h-7.5zM847.5 1254h5V1361.75h-5zM852.5 1271.5h10V1361.75h-10zM862.5 1214h7.5V1361.75h-7.5zM870 1256.5h5V1361.75h-5zM875 1160.25h5V1361.75h-5zM880 1241.5h5V1361.75h-5zM885 1276.5h6.25V1361.75h-6.25zM891.25 1301.5h8.75V1361.75h-8.75z"/>
<path fill="#16ff00" d="M885 1299h7.5V1361.75h-7.5zM892.5 1302.75h6.25V1361.75h-6.25zM898.75 1339h5V1361.75h-5zM903.75 1349h10V1361.75h-10zM913.75 1305.25h6.25V1361.75h-6.25zM920 1349h10V1361.75h-10zM930 1309h6.25V1361.75h-6.25zM936.25 1339h3.75V1361.75h-3.75zM940 1307.75h7.5V1361.75h-7.5zM947.5 1351.5h7.5V1361.75h-7.5zM955 1331.5h10V1361.75h-10zM965 1339h5V1361.75h-5zM970 1331.5h5V1361.75h-5zM975 1349h6.25V1361.75h-6.25zM981.25 1319h6.25V1361.75h-6.25zM987.5 1334h5V1361.75h-5zM992.5 1315.25h6.25V1361.75h-6.25zM998.75 1339h13.75V1361.75h-13.75zM1012.5 1312.75h8.75V1361.75h-8.75zM1021.25 1349h8.75V1361.75h-8.75zM1030 1324h7.5V1361.75h-7.5zM1037.5 1344h10V1361.75h-10zM1047.5 1214h5V1361.75h-5zM1052.5 1339h11.25V1361.75h-11.25zM1063.75 1294h6.25V1361.75h-6.25zM1070 1311.5h5V1361.75h-5zM1075 1289h6.25V1361.75h-6.25zM1081.25 1344h6.25V1361.75h-6.25zM1087.5 1282.75h5V1361.75h-5zM1092.5 1346.5h6.25V1361.75h-6.25zM1098.75 1220.25h5V1361.75h-5zM1103.75 1331.5h8.75V1361.75h-8.75zM1112.5 1344h7.5V1361.75h-7.5zM1120 1341.5h7.5V1361.75h-7.5zM1127.5 1339h17.5V1361.75h-17.5zM1145 1322.75h7.5V1361.75h-7.5zM1152.5 1346.5h15V1361.75h-15z"/>
<path fill="#0c12fc" d="M606.25 1286.5h1.25V1361.75h-1.25zM607.5 1329h7.5V1361.75h-7.5zM615 1325.25h10V1361.75h-10zM625 1331.5h12.5V1361.75h-12.5zM637.5 1319h6.25V1361.75h-6.25zM643.75 1296.5h7.5V1361.75h-7.5zM651.25 1329h6.25V1361.75h-6.25zM657.5 1332.75h7.5V1361.75h-7.5zM665 1319h7.5V1361.75h-7.5zM672.5 1324h10V1361.75h-10zM682.5 1319h10V1361.75h-10zM692.5 1329h8.75V1361.75h-8.75zM701.25 1259h3.75V1361.75h-3.75zM705 1324h8.75V1361.75h-8.75zM713.75 1299h3.75V1361.75h-3.75zM717.5 1344h12.5V1361.75h-12.5zM730 1334h10V1361.75h-10zM740 1329h10V1361.75h-10zM750 1334h12.5V1361.75h-12.5zM762.5 1319h12.5V1361.75h-12.5zM775 1339h10V1361.75h-10zM785 1296.5h5V1361.75h-5zM790 1329h10V1361.75h-10zM800 1289h7.5V1361.75h-7.5zM807.5 1311.5h7.5V1361.75h-7.5zM815 1305.25h10V1361.75h-10zM825 1324h7.5V1361.75h-7.5zM832.5 1231.5h7.5V1361.75h-7.5zM840 1291.5h7.5V1361.75h-7.5zM847.5 1324h7.5V1361.75h-7.5zM855 1319h10V1361.75h-10zM865 1309h7.5V1361.75h-7.5zM872.5 1269h5V1361.75h-5zM877.5 1329h7.5V1361.75h-7.5zM885 1334h7.5V1361.75h-7.5zM892.5 1324h7.5V1361.75h-7.5z"/>
<path fill="#0c12fc" d="M885 1319h6.25V1361.75h-6.25zM891.25 1344h12.5V1361.75h-12.5zM903.75 1354h11.25V1361.75h-11.25zM915 1339h5V1361.75h-5zM920 1354h20V1361.75h-20zM940 1331.5h7.5V1361.75h-7.5zM947.5 1354h35V1361.75h-35zM982.5 1334h5V1361.75h-5zM987.5 1351.5h25V1361.75h-25zM1012.5 1339h7.5V1361.75h-7.5zM1020 1354h27.5V1361.75h-27.5zM1047.5 1332.75h5V1361.75h-5zM1052.5 1351.5h12.5V1361.75h-12.5zM1065 1329h5V1361.75h-5zM1070 1349h5V1361.75h-5zM1075 1329h5V1361.75h-5zM1080 1351.5h87.5V1361.75h-87.5z"/>
<rect x="611.25" y="1187.75" width="5" height="48.75" fill="#b4d22a"/>
<rect x="623.75" y="1242.75" width="3.75" height="78.75" fill="#b4d22a"/>
<rect x="638.75" y="1166.5" width="5" height="32.5" fill="#b4d22a"/>
<rect x="638.75" y="1199" width="5" height="120" fill="#8c2ad8"/>
<rect x="651.25" y="1205.25" width="3.75" height="48.75" fill="#b4d22a"/>
<rect x="663.75" y="1215.25" width="3.75" height="41.25" fill="#b4d22a"/>
<rect x="672.5" y="1215.25" width="3.75" height="61.25" fill="#b4d22a"/>
<rect x="682.5" y="1215.25" width="3.75" height="58.75" fill="#b4d22a"/>
<rect x="692.5" y="1215.25" width="3.75" height="58.75" fill="#b4d22a"/>
<rect x="698.75" y="1226.5" width="5" height="35" fill="#b4d22a"/>
<rect x="732.5" y="1244" width="3.75" height="55" fill="#b4d22a"/>
<rect x="761.25" y="1195.25" width="3.75" height="93.75" fill="#b4d22a"/>
<rect x="770" y="1247.75" width="3.75" height="51.25" fill="#b4d22a"/>
<rect x="785" y="1166.5" width="3.75" height="45" fill="#b4d22a"/>
<rect x="812.5" y="1214" width="3.75" height="85" fill="#b4d22a"/>
<rect x="835" y="1214" width="3.75" height="17.5" fill="#b4d22a"/>
<rect x="862.5" y="1214" width="3.75" height="57.5" fill="#b4d22a"/>
<rect x="875" y="1160.25" width="3.75" height="81.25" fill="#b4d22a"/>
<rect x="713.75" y="1299" width="3.75" height="45" fill="#8c2ad8"/>
<rect x="1047.5" y="1214" width="5" height="118.75" fill="#b4d22a"/>
<rect x="1098.75" y="1220.25" width="5" height="56.25" fill="#b4d22a"/>
<rect x="1098.75" y="1276.5" width="5" height="70" fill="#8c2ad8"/>
<rect x="1085" y="1314" width="7.5" height="32.5" fill="#8c2ad8"/>
<rect x="1063.75" y="1294" width="6.25" height="35" fill="#b4d22a"/>
<rect x="1075" y="1289" width="6.25" height="40" fill="#b4d22a"/>
<rect x="1087.5" y="1282.75" width="5" height="31.25" fill="#b4d22a"/>
<rect x="913.75" y="1305.25" width="6.25" height="33.75" fill="#b4d22a"/>
<rect x="930" y="1309" width="6.25" height="30" fill="#b4d22a"/>
<rect x="940" y="1307.75" width="7.5" height="23.75" fill="#b4d22a"/>
<rect x="992.5" y="1315.25" width="6.25" height="18.75" fill="#b4d22a"/>
<rect x="1012.5" y="1312.75" width="8.75" height="26.25" fill="#b4d22a"/>
<rect x="1145" y="1322.75" width="7.5" height="23.75" fill="#b4d22a"/>
<rect x="894" y="1353.96" width="4.2" height="6.79" fill="#16ff00"/>
<rect x="898.2" y="1359.01" width="4.2" height="1.74" fill="#16ff00"/>
<rect x="902.4" y="1353.75" width="4.2" height="7" fill="#16ff00"/>
<rect x="906.6" y="1359.08" width="4.2" height="1.67" fill="#20d0a0"/>
<rect x="910.8" y="1356.53" width="4.2" height="4.22" fill="#16ff00"/>
<rect x="919.2" y="1356.58" width="4.2" height="4.17" fill="#0c12fc"/>
<rect x="927.6" y="1356.64" width="4.2" height="4.11" fill="#20d0a0"/>
<rect x="936" y="1358.72" width="4.2" height="2.03" fill="#0c12fc"/>
<rect x="940.2" y="1354.69" width="4.2" height="6.06" fill="#0c12fc"/>
<rect x="944.4" y="1357.39" width="4.2" height="3.36" fill="#0c12fc"/>
<rect x="948.6" y="1355.68" width="4.2" height="5.07" fill="#16ff00"/>
<rect x="952.8" y="1358.47" width="4.2" height="2.28" fill="#0c12fc"/>
<rect x="957" y="1359.04" width="4.2" height="1.71" fill="#16ff00"/>
<rect x="961.2" y="1354.52" width="4.2" height="6.23" fill="#20d0a0"/>
<rect x="973.8" y="1357.29" width="4.2" height="3.46" fill="#20d0a0"/>
<rect x="978" y="1355.05" width="4.2" height="5.7" fill="#0c12fc"/>
<rect x="982.2" y="1357.52" width="4.2" height="3.23" fill="#0c12fc"/>
<rect x="994.8" y="1358.16" width="4.2" height="2.59" fill="#16ff00"/>
<rect x="999" y="1357.69" width="4.2" height="3.06" fill="#0c12fc"/>
<rect x="1015.8" y="1357.36" width="4.2" height="3.39" fill="#0c12fc"/>
<rect x="1020" y="1358.04" width="4.2" height="2.71" fill="#0c12fc"/>
<rect x="1024.2" y="1357.18" width="4.2" height="3.57" fill="#20d0a0"/>
<rect x="1028.4" y="1357.07" width="4.2" height="3.68" fill="#16ff00"/>
<rect x="1041" y="1353.9" width="4.2" height="6.85" fill="#16ff00"/>
<rect x="1045.2" y="1359.18" width="4.2" height="1.57" fill="#20d0a0"/>
<rect x="1049.4" y="1358.31" width="4.2" height="2.44" fill="#20d0a0"/>
<rect x="1057.8" y="1356.15" width="4.2" height="4.6" fill="#20d0a0"/>
<rect x="1062" y="1356.01" width="4.2" height="4.74" fill="#0c12fc"/>
<rect x="1070.4" y="1355.6" width="4.2" height="5.15" fill="#0c12fc"/>
<rect x="1074.6" y="1354.1" width="4.2" height="6.65" fill="#20d0a0"/>
<rect x="1087.2" y="1359.16" width="4.2" height="1.59" fill="#16ff00"/>
<rect x="1091.4" y="1355.63" width="4.2" height="5.12" fill="#0c12fc"/>
<rect x="1099.8" y="1353.94" width="4.2" height="6.81" fill="#0c12fc"/>
<rect x="1104" y="1356.51" width="4.2" height="4.24" fill="#0c12fc"/>
<rect x="1112.4" y="1353.94" width="4.2" height="6.81" fill="#16ff00"/>
<rect x="1116.6" y="1353.92" width="4.2" height="6.83" fill="#20d0a0"/>
<rect x="1120.8" y="1358.15" width="4.2" height="2.6" fill="#16ff00"/>
<rect x="1125" y="1356.65" width="4.2" height="4.1" fill="#16ff00"/>
<rect x="1129.2" y="1358.65" width="4.2" height="2.1" fill="#20d0a0"/>
<rect x="1133.4" y="1355.29" width="4.2" height="5.46" fill="#0c12fc"/>
<rect x="1141.8" y="1357.08" width="4.2" height="3.67" fill="#0c12fc"/>
<rect x="1146" y="1358.97" width="4.2" height="1.78" fill="#0c12fc"/>
<rect x="1150.2" y="1358.65" width="4.2" height="2.1" fill="#0c12fc"/>
<rect x="1158.6" y="1359.13" width="4.2" height="1.62" fill="#0c12fc"/>
<rect x="390.9" y="1153.7" width="2.2" height="208.05" fill="#000" opacity="0.4"/>
<rect x="604.4" y="1153.7" width="2.2" height="208.05" fill="#000" opacity="0.5"/>
<rect x="779.9" y="1153.7" width="2.2" height="208.05" fill="#000" opacity="0.3"/>
<rect x="891.9" y="1153.7" width="2.2" height="208.05" fill="#000" opacity="0.4"/>
<rect x="34.2" y="1153.7" width="2.5" height="208.05" fill="#000" opacity="0.8"/>
<rect x="1166.5" y="1153.7" width="2.5" height="208.05" fill="#000" opacity="0.75"/>
<rect x="34" y="1153.7" width="1135" height="1" fill="#000" opacity="0.25"/>
<rect x="34" y="1360.75" width="1135" height="1" fill="#000" opacity="0.85"/>
</g>
<g filter="url(#softt)">
<rect x="188" y="1170.4" width="56.3" height="42.6" fill="#fff" stroke="#111" stroke-width="1.4" shape-rendering="auto"/>
<text transform="translate(216.15 1201.4) scale(1 1.03)" font-size="28.8" fill="#0a0a0a" stroke="#0a0a0a" stroke-width="0.35" text-anchor="middle">EA</text>
<rect x="468" y="1170.4" width="59.6" height="42.6" fill="#fff" stroke="#111" stroke-width="1.4" shape-rendering="auto"/>
<text transform="translate(497.8 1201.4) scale(1 1.03)" font-size="28.8" fill="#0a0a0a" stroke="#0a0a0a" stroke-width="0.35" text-anchor="middle">AA</text>
<rect x="664.2" y="1170.4" width="70.1" height="42.6" fill="#fff" stroke="#111" stroke-width="1.4" shape-rendering="auto"/>
<text transform="translate(699.25 1201.4) scale(1 1.03)" font-size="28.8" fill="#0a0a0a" stroke="#0a0a0a" stroke-width="0.35" text-anchor="middle">Thai</text>
<rect x="778.2" y="1170.4" width="119.6" height="42.6" fill="#fff" stroke="#111" stroke-width="1.4" shape-rendering="auto"/>
<text transform="translate(838 1201.4) scale(1 1.03)" font-size="28.8" fill="#0a0a0a" stroke="#0a0a0a" stroke-width="0.35" text-anchor="middle">Chinese</text>
<rect x="980.7" y="1170.4" width="112.1" height="42.6" fill="#fff" stroke="#111" stroke-width="1.4" shape-rendering="auto"/>
<text transform="translate(1036.75 1201.4) scale(1 1.03)" font-size="28.8" fill="#0a0a0a" stroke="#0a0a0a" stroke-width="0.35" text-anchor="middle">Hmong</text>
<text transform="translate(36.3 1145.5) scale(1 1.03)" font-size="28.5" fill="#0a0a0a" stroke="#0a0a0a" stroke-width="0.3"><tspan font-weight="bold">(e)</tspan>&#160;K = 3, 15 tetranucleotide markers only</text>
</g>
<g filter="url(#soft)">
<rect x="34" y="1427.5" width="358" height="208.5" fill="#0c12fc"/>
<rect x="392" y="1427.5" width="214" height="208.5" fill="#16ff00"/>
<rect x="606" y="1427.5" width="563" height="208.5" fill="#f90d16"/>
<path fill="#f90d16" d="M35 1427.5h295V1431.75h-295z"/>
<rect x="36.25" y="1428" width="5" height="32.5" fill="#f90d16"/>
<rect x="36.25" y="1460.5" width="5" height="28.75" fill="#8c2ad8"/>
<rect x="36.25" y="1489.25" width="5" height="6.25" fill="#20d0a0"/>
<rect x="41.25" y="1433" width="5" height="26.25" fill="#16ff00"/>
<rect x="53.75" y="1430.5" width="3.75" height="11.25" fill="#20d0a0"/>
<rect x="67.5" y="1430.5" width="6.25" height="13.75" fill="#8c2ad8"/>
<rect x="67.5" y="1444.25" width="6.25" height="3.75" fill="#20d0a0"/>
<rect x="80" y="1430.5" width="5" height="61.25" fill="#20d0a0"/>
<rect x="96.25" y="1430.5" width="6.25" height="66.25" fill="#8c2ad8"/>
<rect x="105" y="1428" width="8.75" height="15" fill="#f90d16"/>
<rect x="105" y="1443" width="8.75" height="11.25" fill="#16ff00"/>
<rect x="133.75" y="1430.5" width="6.25" height="11.25" fill="#16ff00"/>
<rect x="138.75" y="1438" width="6.25" height="45" fill="#8c2ad8"/>
<rect x="138.75" y="1480.5" width="6.25" height="6.25" fill="#20d0a0"/>
<rect x="150" y="1438" width="5" height="7.5" fill="#20d0a0"/>
<rect x="165" y="1428" width="10" height="6.25" fill="#f90d16"/>
<rect x="180" y="1430.5" width="12.5" height="5" fill="#16ff00"/>
<rect x="206.25" y="1430.5" width="12.5" height="12.5" fill="#8c2ad8"/>
<rect x="215" y="1486.75" width="3.75" height="6.25" fill="#20d0a0"/>
<rect x="221.25" y="1430.5" width="5" height="7.5" fill="#16ff00"/>
<rect x="250" y="1430.5" width="6.25" height="7.5" fill="#16ff00"/>
<rect x="265" y="1430.5" width="6.25" height="7.5" fill="#16ff00"/>
<rect x="275" y="1428" width="15" height="10" fill="#f90d16"/>
<rect x="275" y="1438" width="15" height="10" fill="#16ff00"/>
<rect x="290" y="1433" width="5" height="8.75" fill="#16ff00"/>
<rect x="302.5" y="1433" width="5" height="7.5" fill="#16ff00"/>
<rect x="312.5" y="1428" width="8.75" height="30" fill="#f90d16"/>
<rect x="312.5" y="1460.5" width="8.75" height="5" fill="#20d0a0"/>
<rect x="321.25" y="1428" width="8.75" height="6.25" fill="#f90d16"/>
<rect x="321.25" y="1434.25" width="8.75" height="3.75" fill="#16ff00"/>
<rect x="320" y="1428" width="10" height="7.5" fill="#f90d16"/>
<rect x="320" y="1428" width="2.5" height="35" fill="#f90d16"/>
<rect x="385" y="1430.5" width="6.25" height="35" fill="#16ff00"/>
<rect x="393.75" y="1428" width="208.75" height="2.5" fill="#f90d16"/>
<rect x="418.75" y="1428" width="3.75" height="16.25" fill="#5c5012"/>
<rect x="430" y="1428" width="3.75" height="70" fill="#5c5012"/>
<rect x="490" y="1428" width="3.75" height="15" fill="#5c5012"/>
<rect x="510" y="1428" width="3.75" height="15" fill="#5c5012"/>
<rect x="557.5" y="1428" width="3.75" height="10" fill="#5c5012"/>
<rect x="590" y="1428" width="7.5" height="7.5" fill="#f90d16"/>
<rect x="420" y="1606.75" width="2.5" height="26.25" fill="#0e5c74"/>
<rect x="431.25" y="1539.25" width="2.5" height="93.75" fill="#0e5c74"/>
<rect x="453.75" y="1549.25" width="5" height="83.75" fill="#20d0a0"/>
<rect x="545" y="1553" width="3.75" height="80" fill="#20d0a0"/>
<rect x="557.5" y="1595.5" width="3.75" height="37.5" fill="#20d0a0"/>
<rect x="565" y="1608" width="2.5" height="25" fill="#20d0a0"/>
<rect x="490" y="1613" width="3.75" height="20" fill="#0e5c74"/>
<rect x="482.5" y="1620.5" width="2.5" height="12.5" fill="#0e5c74"/>
<rect x="395" y="1629.25" width="12.5" height="3.75" fill="#0c12fc"/>
<rect x="430" y="1623" width="7.5" height="10" fill="#0c12fc"/>
<rect x="451.25" y="1626.75" width="8.75" height="6.25" fill="#0c12fc"/>
<rect x="527.5" y="1626.75" width="10" height="6.25" fill="#0c12fc"/>
<rect x="553.75" y="1625.5" width="15" height="7.5" fill="#0c12fc"/>
<rect x="600" y="1543" width="3.75" height="90" fill="#0c12fc"/>
<rect x="611.25" y="1588" width="5" height="15" fill="#b4d22a"/>
<rect x="611.25" y="1603" width="5" height="30" fill="#8c2ad8"/>
<rect x="615" y="1623" width="5" height="7.5" fill="#16ff00"/>
<rect x="623.75" y="1555.5" width="5" height="21.25" fill="#8c2ad8"/>
<rect x="623.75" y="1576.75" width="8.75" height="56.25" fill="#0c12fc"/>
<rect x="631.25" y="1618" width="3.75" height="7.5" fill="#16ff00"/>
<rect x="643.75" y="1570.5" width="5" height="52.5" fill="#8c2ad8"/>
<rect x="643.75" y="1623" width="8.75" height="10" fill="#0c12fc"/>
<rect x="650" y="1500.5" width="6.25" height="132.5" fill="#8c2ad8"/>
<rect x="680" y="1623" width="6.25" height="5" fill="#16ff00"/>
<rect x="685" y="1536.75" width="7.5" height="96.25" fill="#8c2ad8"/>
<rect x="697.5" y="1620.5" width="5" height="6.25" fill="#16ff00"/>
<rect x="710" y="1585.5" width="5" height="20" fill="#b4d22a"/>
<rect x="710" y="1605.5" width="5" height="27.5" fill="#8c2ad8"/>
<rect x="717.5" y="1574.25" width="6.25" height="58.75" fill="#8c2ad8"/>
<rect x="720" y="1615.5" width="5" height="17.5" fill="#0c12fc"/>
<rect x="725" y="1618" width="5" height="7.5" fill="#16ff00"/>
<rect x="737.5" y="1539.25" width="6.25" height="58.75" fill="#8c2ad8"/>
<rect x="737.5" y="1598" width="6.25" height="35" fill="#0c12fc"/>
<rect x="760" y="1610.5" width="5" height="22.5" fill="#16ff00"/>
<rect x="765" y="1566.75" width="5" height="22.5" fill="#b4d22a"/>
<rect x="765" y="1589.25" width="5" height="43.75" fill="#8c2ad8"/>
<rect x="791.25" y="1608" width="6.25" height="15" fill="#8c2ad8"/>
<rect x="791.25" y="1623" width="6.25" height="10" fill="#0c12fc"/>
<rect x="807.5" y="1516.75" width="6.25" height="81.25" fill="#8c2ad8"/>
<rect x="807.5" y="1598" width="6.25" height="35" fill="#0c12fc"/>
<rect x="820" y="1544.25" width="5" height="26.25" fill="#b4d22a"/>
<rect x="820" y="1570.5" width="5" height="30" fill="#8c2ad8"/>
<rect x="820" y="1600.5" width="5" height="32.5" fill="#0c12fc"/>
<rect x="830" y="1610.5" width="6.25" height="22.5" fill="#8c2ad8"/>
<rect x="842.5" y="1560.5" width="5" height="37.5" fill="#b4d22a"/>
<rect x="842.5" y="1598" width="5" height="35" fill="#8c2ad8"/>
<rect x="852.5" y="1598" width="8.75" height="35" fill="#0c12fc"/>
<rect x="871.25" y="1599.25" width="6.25" height="33.75" fill="#8c2ad8"/>
<rect x="878.75" y="1609.25" width="8.75" height="23.75" fill="#16ff00"/>
<rect x="600" y="1428" width="5" height="27.5" fill="#16ff00"/>
<rect x="600" y="1455.5" width="5" height="177.5" fill="#0c12fc"/>
<rect x="880" y="1609.25" width="10" height="23.75" fill="#16ff00"/>
<rect x="1016.25" y="1600.5" width="5" height="20" fill="#b4d22a"/>
<rect x="1016.25" y="1620.5" width="5" height="12.5" fill="#0c12fc"/>
<rect x="1035" y="1578" width="6.25" height="37.5" fill="#b4d22a"/>
<rect x="1035" y="1615.5" width="6.25" height="17.5" fill="#0c12fc"/>
<rect x="1071.25" y="1619.25" width="6.25" height="13.75" fill="#0c12fc"/>
<rect x="982.5" y="1625.5" width="10" height="7.5" fill="#16ff00"/>
<rect x="607" y="1632.19" width="4.2" height="2.81" fill="#0c12fc"/>
<rect x="611.2" y="1631.13" width="4.2" height="3.87" fill="#16ff00"/>
<rect x="615.4" y="1630.36" width="4.2" height="4.64" fill="#0c12fc"/>
<rect x="619.6" y="1630.22" width="4.2" height="4.78" fill="#0c12fc"/>
<rect x="628" y="1630.19" width="4.2" height="4.81" fill="#8c2ad8"/>
<rect x="632.2" y="1632.67" width="4.2" height="2.33" fill="#0c12fc"/>
<rect x="636.4" y="1630.45" width="4.2" height="4.55" fill="#0c12fc"/>
<rect x="644.8" y="1630.89" width="4.2" height="4.11" fill="#0c12fc"/>
<rect x="653.2" y="1632.71" width="4.2" height="2.29" fill="#8c2ad8"/>
<rect x="670" y="1632.3" width="4.2" height="2.7" fill="#0c12fc"/>
<rect x="674.2" y="1630.4" width="4.2" height="4.6" fill="#8c2ad8"/>
<rect x="678.4" y="1632.17" width="4.2" height="2.83" fill="#8c2ad8"/>
<rect x="682.6" y="1632.67" width="4.2" height="2.33" fill="#0c12fc"/>
<rect x="691" y="1630.82" width="4.2" height="4.18" fill="#0c12fc"/>
<rect x="699.4" y="1633.47" width="4.2" height="1.53" fill="#0c12fc"/>
<rect x="703.6" y="1630.29" width="4.2" height="4.71" fill="#0c12fc"/>
<rect x="707.8" y="1631.62" width="4.2" height="3.38" fill="#0c12fc"/>
<rect x="712" y="1632.11" width="4.2" height="2.89" fill="#0c12fc"/>
<rect x="720.4" y="1630.21" width="4.2" height="4.79" fill="#0c12fc"/>
<rect x="724.6" y="1631.56" width="4.2" height="3.44" fill="#0c12fc"/>
<rect x="737.2" y="1633.38" width="4.2" height="1.62" fill="#8c2ad8"/>
<rect x="745.6" y="1631.36" width="4.2" height="3.64" fill="#0c12fc"/>
<rect x="758.2" y="1631.52" width="4.2" height="3.48" fill="#0c12fc"/>
<rect x="766.6" y="1630.41" width="4.2" height="4.59" fill="#16ff00"/>
<rect x="770.8" y="1632.09" width="4.2" height="2.91" fill="#0c12fc"/>
<rect x="775" y="1631.37" width="4.2" height="3.63" fill="#0c12fc"/>
<rect x="779.2" y="1632.75" width="4.2" height="2.25" fill="#8c2ad8"/>
<rect x="783.4" y="1630.65" width="4.2" height="4.35" fill="#16ff00"/>
<rect x="791.8" y="1630.76" width="4.2" height="4.24" fill="#0c12fc"/>
<rect x="796" y="1631.54" width="4.2" height="3.46" fill="#8c2ad8"/>
<rect x="800.2" y="1631.02" width="4.2" height="3.98" fill="#0c12fc"/>
<rect x="804.4" y="1633.27" width="4.2" height="1.73" fill="#0c12fc"/>
<rect x="808.6" y="1630.84" width="4.2" height="4.16" fill="#16ff00"/>
<rect x="817" y="1633.01" width="4.2" height="1.99" fill="#16ff00"/>
<rect x="821.2" y="1630.55" width="4.2" height="4.45" fill="#16ff00"/>
<rect x="825.4" y="1630.21" width="4.2" height="4.79" fill="#0c12fc"/>
<rect x="829.6" y="1632.93" width="4.2" height="2.07" fill="#0c12fc"/>
<rect x="838" y="1633.29" width="4.2" height="1.71" fill="#0c12fc"/>
<rect x="846.4" y="1633.45" width="4.2" height="1.55" fill="#16ff00"/>
<rect x="850.6" y="1631.82" width="4.2" height="3.18" fill="#16ff00"/>
<rect x="854.8" y="1633.2" width="4.2" height="1.8" fill="#16ff00"/>
<rect x="863.2" y="1631.92" width="4.2" height="3.08" fill="#8c2ad8"/>
<rect x="867.4" y="1630.69" width="4.2" height="4.31" fill="#16ff00"/>
<rect x="880" y="1633.15" width="4.2" height="1.85" fill="#0c12fc"/>
<rect x="884.2" y="1633.05" width="4.2" height="1.95" fill="#0c12fc"/>
<rect x="888.4" y="1630.74" width="4.2" height="4.26" fill="#0c12fc"/>
<rect x="892.6" y="1631.84" width="4.2" height="3.16" fill="#8c2ad8"/>
<rect x="896.8" y="1631.58" width="4.2" height="3.42" fill="#16ff00"/>
<rect x="901" y="1630.21" width="4.2" height="4.79" fill="#0c12fc"/>
<rect x="905.2" y="1631.45" width="4.2" height="3.55" fill="#8c2ad8"/>
<rect x="909.4" y="1631.67" width="4.2" height="3.33" fill="#0c12fc"/>
<rect x="917.8" y="1630.16" width="4.2" height="4.84" fill="#0c12fc"/>
<rect x="930.4" y="1631.05" width="4.2" height="3.95" fill="#8c2ad8"/>
<rect x="934.6" y="1630.39" width="4.2" height="4.61" fill="#0c12fc"/>
<rect x="943" y="1632.65" width="4.2" height="2.35" fill="#8c2ad8"/>
<rect x="947.2" y="1630.62" width="4.2" height="4.38" fill="#8c2ad8"/>
<rect x="955.6" y="1631.41" width="4.2" height="3.59" fill="#0c12fc"/>
<rect x="964" y="1633.26" width="4.2" height="1.74" fill="#0c12fc"/>
<rect x="968.2" y="1630.87" width="4.2" height="4.13" fill="#0c12fc"/>
<rect x="972.4" y="1632.26" width="4.2" height="2.74" fill="#8c2ad8"/>
<rect x="976.6" y="1631.84" width="4.2" height="3.16" fill="#0c12fc"/>
<rect x="980.8" y="1630.76" width="4.2" height="4.24" fill="#0c12fc"/>
<rect x="985" y="1631.93" width="4.2" height="3.07" fill="#0c12fc"/>
<rect x="1001.8" y="1632.28" width="4.2" height="2.72" fill="#0c12fc"/>
<rect x="1006" y="1633.05" width="4.2" height="1.95" fill="#0c12fc"/>
<rect x="1010.2" y="1633.32" width="4.2" height="1.68" fill="#0c12fc"/>
<rect x="1022.8" y="1630.91" width="4.2" height="4.09" fill="#8c2ad8"/>
<rect x="1031.2" y="1630.44" width="4.2" height="4.56" fill="#0c12fc"/>
<rect x="1035.4" y="1632.6" width="4.2" height="2.4" fill="#0c12fc"/>
<rect x="1039.6" y="1632.61" width="4.2" height="2.39" fill="#0c12fc"/>
<rect x="1048" y="1632.04" width="4.2" height="2.96" fill="#16ff00"/>
<rect x="1052.2" y="1632.4" width="4.2" height="2.6" fill="#0c12fc"/>
<rect x="1064.8" y="1633.36" width="4.2" height="1.64" fill="#0c12fc"/>
<rect x="1098.4" y="1632.39" width="4.2" height="2.61" fill="#0c12fc"/>
<rect x="1102.6" y="1632.37" width="4.2" height="2.63" fill="#16ff00"/>
<rect x="1115.2" y="1633.23" width="4.2" height="1.77" fill="#16ff00"/>
<rect x="1119.4" y="1631.36" width="4.2" height="3.64" fill="#8c2ad8"/>
<rect x="1123.6" y="1632.85" width="4.2" height="2.15" fill="#8c2ad8"/>
<rect x="1127.8" y="1633.18" width="4.2" height="1.82" fill="#16ff00"/>
<rect x="1132" y="1632.84" width="4.2" height="2.16" fill="#16ff00"/>
<rect x="1140.4" y="1631.31" width="4.2" height="3.69" fill="#16ff00"/>
<rect x="1153" y="1630.21" width="4.2" height="4.79" fill="#8c2ad8"/>
<rect x="1157.2" y="1631.6" width="4.2" height="3.4" fill="#16ff00"/>
<rect x="1161.4" y="1631.16" width="4.2" height="3.84" fill="#8c2ad8"/>
<rect x="1165.6" y="1630.47" width="0.4" height="4.53" fill="#16ff00"/>
<rect x="41.2" y="1428.5" width="4.2" height="3.52" fill="#16ff00"/>
<rect x="53.8" y="1428.5" width="4.2" height="4.34" fill="#f90d16"/>
<rect x="62.2" y="1428.5" width="4.2" height="2.37" fill="#f90d16"/>
<rect x="66.4" y="1428.5" width="4.2" height="4.51" fill="#20d0a0"/>
<rect x="70.6" y="1428.5" width="4.2" height="2.97" fill="#f90d16"/>
<rect x="87.4" y="1428.5" width="4.2" height="4.19" fill="#16ff00"/>
<rect x="100" y="1428.5" width="4.2" height="1.51" fill="#16ff00"/>
<rect x="104.2" y="1428.5" width="4.2" height="4.68" fill="#20d0a0"/>
<rect x="108.4" y="1428.5" width="4.2" height="4.64" fill="#f90d16"/>
<rect x="129.4" y="1428.5" width="4.2" height="3.26" fill="#16ff00"/>
<rect x="137.8" y="1428.5" width="4.2" height="1.61" fill="#f90d16"/>
<rect x="158.8" y="1428.5" width="4.2" height="3.49" fill="#f90d16"/>
<rect x="167.2" y="1428.5" width="4.2" height="4.87" fill="#f90d16"/>
<rect x="171.4" y="1428.5" width="4.2" height="4.94" fill="#16ff00"/>
<rect x="179.8" y="1428.5" width="4.2" height="2.95" fill="#16ff00"/>
<rect x="188.2" y="1428.5" width="4.2" height="3.33" fill="#f90d16"/>
<rect x="192.4" y="1428.5" width="4.2" height="2.56" fill="#16ff00"/>
<rect x="205" y="1428.5" width="4.2" height="3.02" fill="#f90d16"/>
<rect x="213.4" y="1428.5" width="4.2" height="4.64" fill="#16ff00"/>
<rect x="217.6" y="1428.5" width="4.2" height="3.07" fill="#20d0a0"/>
<rect x="221.8" y="1428.5" width="4.2" height="4.72" fill="#16ff00"/>
<rect x="230.2" y="1428.5" width="4.2" height="3.34" fill="#f90d16"/>
<rect x="242.8" y="1428.5" width="4.2" height="3.21" fill="#16ff00"/>
<rect x="251.2" y="1428.5" width="4.2" height="3.39" fill="#f90d16"/>
<rect x="263.8" y="1428.5" width="4.2" height="3.04" fill="#16ff00"/>
<rect x="276.4" y="1428.5" width="4.2" height="1.73" fill="#f90d16"/>
<rect x="280.6" y="1428.5" width="4.2" height="1.88" fill="#16ff00"/>
<rect x="293.2" y="1428.5" width="4.2" height="4.52" fill="#20d0a0"/>
<rect x="301.6" y="1428.5" width="4.2" height="2.41" fill="#16ff00"/>
<rect x="305.8" y="1428.5" width="4.2" height="3.77" fill="#20d0a0"/>
<rect x="310" y="1428.5" width="4.2" height="2.33" fill="#20d0a0"/>
<rect x="314.2" y="1428.5" width="4.2" height="2.18" fill="#20d0a0"/>
<rect x="326.8" y="1428.5" width="4.2" height="1.91" fill="#f90d16"/>
<rect x="331" y="1428.5" width="4.2" height="4.51" fill="#f90d16"/>
<rect x="339.4" y="1428.5" width="4.2" height="4.7" fill="#f90d16"/>
<rect x="347.8" y="1428.5" width="4.2" height="3.85" fill="#16ff00"/>
<rect x="352" y="1428.5" width="4.2" height="2.9" fill="#16ff00"/>
<rect x="360.4" y="1428.5" width="4.2" height="3.57" fill="#16ff00"/>
<rect x="364.6" y="1428.5" width="4.2" height="1.84" fill="#f90d16"/>
<rect x="389.8" y="1428.5" width="1.2" height="3.82" fill="#20d0a0"/>
<rect x="394" y="1428.5" width="4.2" height="3.46" fill="#5c5012"/>
<rect x="398.2" y="1428.5" width="4.2" height="4.49" fill="#f90d16"/>
<rect x="402.4" y="1428.5" width="4.2" height="3.29" fill="#f90d16"/>
<rect x="410.8" y="1428.5" width="4.2" height="3.06" fill="#f90d16"/>
<rect x="415" y="1428.5" width="4.2" height="4.33" fill="#f90d16"/>
<rect x="427.6" y="1428.5" width="4.2" height="3.09" fill="#f90d16"/>
<rect x="436" y="1428.5" width="4.2" height="1.55" fill="#f90d16"/>
<rect x="440.2" y="1428.5" width="4.2" height="1.62" fill="#f90d16"/>
<rect x="452.8" y="1428.5" width="4.2" height="3.57" fill="#f90d16"/>
<rect x="465.4" y="1428.5" width="4.2" height="3.82" fill="#5c5012"/>
<rect x="473.8" y="1428.5" width="4.2" height="3.43" fill="#f90d16"/>
<rect x="482.2" y="1428.5" width="4.2" height="2.3" fill="#5c5012"/>
<rect x="486.4" y="1428.5" width="4.2" height="3.47" fill="#f90d16"/>
<rect x="490.6" y="1428.5" width="4.2" height="4.46" fill="#5c5012"/>
<rect x="494.8" y="1428.5" width="4.2" height="1.56" fill="#f90d16"/>
<rect x="499" y="1428.5" width="4.2" height="2.23" fill="#f90d16"/>
<rect x="503.2" y="1428.5" width="4.2" height="4.93" fill="#5c5012"/>
<rect x="507.4" y="1428.5" width="4.2" height="3.48" fill="#f90d16"/>
<rect x="515.8" y="1428.5" width="4.2" height="1.81" fill="#5c5012"/>
<rect x="520" y="1428.5" width="4.2" height="2.94" fill="#f90d16"/>
<rect x="524.2" y="1428.5" width="4.2" height="3.97" fill="#f90d16"/>
<rect x="528.4" y="1428.5" width="4.2" height="4.29" fill="#f90d16"/>
<rect x="536.8" y="1428.5" width="4.2" height="3.28" fill="#f90d16"/>
<rect x="545.2" y="1428.5" width="4.2" height="2.84" fill="#5c5012"/>
<rect x="549.4" y="1428.5" width="4.2" height="2.25" fill="#5c5012"/>
<rect x="570.4" y="1428.5" width="4.2" height="2.16" fill="#f90d16"/>
<rect x="578.8" y="1428.5" width="4.2" height="4.96" fill="#f90d16"/>
<rect x="583" y="1428.5" width="4.2" height="1.53" fill="#f90d16"/>
<rect x="587.2" y="1428.5" width="4.2" height="2.54" fill="#f90d16"/>
<rect x="591.4" y="1428.5" width="4.2" height="2.23" fill="#f90d16"/>
<rect x="595.6" y="1428.5" width="4.2" height="3.6" fill="#5c5012"/>
<rect x="390.9" y="1427.5" width="2.2" height="208.5" fill="#000" opacity="0.85"/>
<rect x="604.4" y="1427.5" width="2.2" height="208.5" fill="#000" opacity="0.85"/>
<rect x="780.9" y="1427.5" width="2.2" height="208.5" fill="#000" opacity="0.35"/>
<rect x="891.4" y="1427.5" width="2.2" height="208.5" fill="#000" opacity="0.45"/>
<rect x="34.2" y="1427.5" width="2.5" height="208.5" fill="#000" opacity="0.8"/>
<rect x="1166.5" y="1427.5" width="2.5" height="208.5" fill="#000" opacity="0.75"/>
<rect x="34" y="1427.5" width="1135" height="1" fill="#000" opacity="0.25"/>
<rect x="34" y="1635" width="1135" height="1" fill="#000" opacity="0.85"/>
</g>
<g filter="url(#softt)">
<rect x="188" y="1444.2" width="56.3" height="42.6" fill="#fff" stroke="#111" stroke-width="1.4" shape-rendering="auto"/>
<text transform="translate(216.15 1475.2) scale(1 1.03)" font-size="28.8" fill="#0a0a0a" stroke="#0a0a0a" stroke-width="0.35" text-anchor="middle">EA</text>
<rect x="468" y="1444.2" width="59.6" height="42.6" fill="#fff" stroke="#111" stroke-width="1.4" shape-rendering="auto"/>
<text transform="translate(497.8 1475.2) scale(1 1.03)" font-size="28.8" fill="#0a0a0a" stroke="#0a0a0a" stroke-width="0.35" text-anchor="middle">AA</text>
<rect x="664.2" y="1444.2" width="70.1" height="42.6" fill="#fff" stroke="#111" stroke-width="1.4" shape-rendering="auto"/>
<text transform="translate(699.25 1475.2) scale(1 1.03)" font-size="28.8" fill="#0a0a0a" stroke="#0a0a0a" stroke-width="0.35" text-anchor="middle">Thai</text>
<rect x="778.2" y="1444.2" width="119.6" height="42.6" fill="#fff" stroke="#111" stroke-width="1.4" shape-rendering="auto"/>
<text transform="translate(838 1475.2) scale(1 1.03)" font-size="28.8" fill="#0a0a0a" stroke="#0a0a0a" stroke-width="0.35" text-anchor="middle">Chinese</text>
<rect x="980.7" y="1444.2" width="112.1" height="42.6" fill="#fff" stroke="#111" stroke-width="1.4" shape-rendering="auto"/>
<text transform="translate(1036.75 1475.2) scale(1 1.03)" font-size="28.8" fill="#0a0a0a" stroke="#0a0a0a" stroke-width="0.35" text-anchor="middle">Hmong</text>
<text transform="translate(36.3 1415.1) scale(1 1.03)" font-size="28.5" fill="#0a0a0a" stroke="#0a0a0a" stroke-width="0.3"><tspan font-weight="bold">(f)</tspan>&#160;K = 3, 17 dinucleotide markers only</text>
</g>
<g filter="url(#soft)">
<rect x="34" y="1701" width="358" height="207.7" fill="#16ff00"/>
<rect x="392" y="1701" width="214" height="207.7" fill="#f90d16"/>
<rect x="606" y="1701" width="287.5" height="207.7" fill="#0c12fc"/>
<rect x="893.5" y="1701" width="275.5" height="207.7" fill="#f7f622"/>
<path fill="#f90d16" d="M35 1701h295V1703h-295z"/>
<rect x="35" y="1701" width="12.5" height="6.25" fill="#f90d16"/>
<rect x="42.5" y="1701" width="2.5" height="21.25" fill="#5c5012"/>
<rect x="53.75" y="1701" width="2.5" height="12.5" fill="#5c5012"/>
<rect x="81.25" y="1701" width="3.75" height="61.25" fill="#5c5012"/>
<rect x="102.5" y="1701" width="12.5" height="6.25" fill="#f90d16"/>
<rect x="135" y="1701" width="6.25" height="8.75" fill="#f90d16"/>
<rect x="215" y="1701" width="2.5" height="16.25" fill="#5c5012"/>
<rect x="265" y="1701" width="5" height="10" fill="#5c5012"/>
<rect x="280" y="1701" width="12.5" height="11.25" fill="#f90d16"/>
<rect x="301.25" y="1701" width="8.75" height="7.5" fill="#f90d16"/>
<rect x="36.25" y="1836" width="6.25" height="70" fill="#f7f622"/>
<rect x="36.25" y="1827.25" width="6.25" height="10" fill="#5ad0f0"/>
<rect x="96.25" y="1829.75" width="3.75" height="66.25" fill="#0e5c74"/>
<rect x="107.5" y="1829.75" width="5" height="32.5" fill="#20d0a0"/>
<rect x="107.5" y="1862.25" width="6.25" height="42.5" fill="#0c12fc"/>
<rect x="141.25" y="1824.75" width="3.75" height="68.75" fill="#0e5c74"/>
<rect x="141.25" y="1893.5" width="6.25" height="10" fill="#0c12fc"/>
<rect x="162.5" y="1896" width="7.5" height="7.5" fill="#0c12fc"/>
<rect x="207.5" y="1849.75" width="2.5" height="38.75" fill="#20d0a0"/>
<rect x="215" y="1779.75" width="3" height="123.75" fill="#0e5c74"/>
<rect x="207.5" y="1888.5" width="5" height="17.5" fill="#f7f622"/>
<rect x="250" y="1886" width="3.75" height="17.5" fill="#0e5c74"/>
<rect x="277.5" y="1886" width="3.75" height="17.5" fill="#0e5c74"/>
<rect x="277.5" y="1896" width="5" height="10" fill="#f7f622"/>
<rect x="315" y="1874.75" width="5" height="13.75" fill="#0c12fc"/>
<rect x="312.5" y="1888.5" width="8.75" height="17.5" fill="#f7f622"/>
<rect x="70" y="1888.5" width="3.75" height="17.5" fill="#0e5c74"/>
<rect x="320" y="1701" width="15" height="6.25" fill="#f90d16"/>
<rect x="347.5" y="1701" width="12.5" height="7.5" fill="#f90d16"/>
<rect x="385" y="1701" width="6.25" height="30" fill="#f90d16"/>
<rect x="418.75" y="1861" width="5" height="25" fill="#b4d22a"/>
<rect x="418.75" y="1886" width="5" height="12.5" fill="#8c2ad8"/>
<rect x="418.75" y="1898.5" width="5" height="7.5" fill="#f7f622"/>
<rect x="431.25" y="1738.5" width="5" height="92.5" fill="#b4d22a"/>
<rect x="431.25" y="1831" width="5" height="55" fill="#8c2ad8"/>
<rect x="431.25" y="1886" width="5" height="20" fill="#f7f622"/>
<rect x="453.75" y="1809.75" width="6.25" height="86.25" fill="#b4d22a"/>
<rect x="453.75" y="1896" width="6.25" height="10" fill="#0c12fc"/>
<rect x="481.25" y="1878.5" width="6.25" height="15" fill="#b4d22a"/>
<rect x="481.25" y="1893.5" width="6.25" height="12.5" fill="#8c2ad8"/>
<rect x="490" y="1828.5" width="5" height="17.5" fill="#b4d22a"/>
<rect x="490" y="1846" width="5" height="60" fill="#8c2ad8"/>
<rect x="510" y="1878.5" width="5" height="6.25" fill="#b4d22a"/>
<rect x="510" y="1884.75" width="5" height="12.5" fill="#8c2ad8"/>
<rect x="510" y="1897.25" width="5" height="8.75" fill="#f7f622"/>
<rect x="545" y="1824.75" width="5" height="76.25" fill="#b4d22a"/>
<rect x="556.25" y="1856" width="5" height="31.25" fill="#b4d22a"/>
<rect x="556.25" y="1887.25" width="5" height="11.25" fill="#8c2ad8"/>
<rect x="565" y="1876" width="5" height="25" fill="#b4d22a"/>
<rect x="592.5" y="1888.5" width="5" height="7.5" fill="#b4d22a"/>
<rect x="592.5" y="1896" width="5" height="10" fill="#0c12fc"/>
<rect x="598.75" y="1773.5" width="5" height="42.5" fill="#b4d22a"/>
<rect x="598.75" y="1816" width="5" height="90" fill="#0c12fc"/>
<rect x="607.5" y="1876" width="5" height="30" fill="#c2c5b8"/>
<rect x="606.25" y="1703.5" width="13.75" height="12.5" fill="#20d0a0"/>
<rect x="762.5" y="1703.5" width="5" height="17.5" fill="#f90d16"/>
<rect x="619.5" y="1711" width="3.5" height="195" fill="#c2c5b8"/>
<rect x="623.75" y="1706" width="5" height="47.5" fill="#16ff00"/>
<rect x="645" y="1704.75" width="10" height="13.75" fill="#16ff00"/>
<rect x="651.25" y="1718.5" width="3.75" height="57.5" fill="#20d0a0"/>
<rect x="670.75" y="1783.5" width="3.5" height="122.5" fill="#c2c5b8"/>
<rect x="636.5" y="1838.5" width="3.25" height="67.5" fill="#c2c5b8"/>
<rect x="607.5" y="1876" width="5" height="30" fill="#c2c5b8"/>
<rect x="647.5" y="1893.5" width="7.5" height="12.5" fill="#f7f622"/>
<rect x="657.5" y="1893.5" width="5" height="12.5" fill="#c2c5b8"/>
<rect x="677.5" y="1871" width="8.75" height="35" fill="#f7f622"/>
<rect x="688.75" y="1883.5" width="5" height="22.5" fill="#c2c5b8"/>
<rect x="698.25" y="1803.5" width="3.5" height="102.5" fill="#c2c5b8"/>
<rect x="706.25" y="1868.5" width="3.75" height="37.5" fill="#c2c5b8"/>
<rect x="715" y="1868.5" width="3.75" height="37.5" fill="#c2c5b8"/>
<rect x="722" y="1841" width="3.5" height="65" fill="#c2c5b8"/>
<rect x="700" y="1898.5" width="30" height="7.5" fill="#f7f622"/>
<rect x="750" y="1888.5" width="5" height="17.5" fill="#c2c5b8"/>
<rect x="757.5" y="1864.75" width="5" height="41.25" fill="#c2c5b8"/>
<rect x="765" y="1721" width="5" height="47.5" fill="#20d0a0"/>
<rect x="765" y="1822.25" width="5" height="31.25" fill="#c2c5b8"/>
<rect x="765" y="1853.5" width="8.75" height="52.5" fill="#f7f622"/>
<rect x="778.25" y="1838.5" width="3.5" height="67.5" fill="#c2c5b8"/>
<rect x="782.5" y="1881" width="7.5" height="25" fill="#f7f622"/>
<rect x="792.5" y="1761" width="3.75" height="145" fill="#c2c5b8"/>
<rect x="801.25" y="1761" width="3.75" height="145" fill="#c2c5b8"/>
<rect x="802.5" y="1876" width="5" height="30" fill="#f7f622"/>
<rect x="817" y="1771" width="3.5" height="135" fill="#c2c5b8"/>
<rect x="829.5" y="1816" width="3.5" height="90" fill="#c2c5b8"/>
<rect x="837" y="1761" width="3.5" height="82.5" fill="#c2c5b8"/>
<rect x="836.25" y="1843.5" width="10" height="62.5" fill="#f7f622"/>
<rect x="851.25" y="1878.5" width="5" height="27.5" fill="#c2c5b8"/>
<rect x="877.5" y="1888.5" width="6.25" height="17.5" fill="#f7f622"/>
<rect x="887.5" y="1791" width="3.75" height="115" fill="#f7f622"/>
<rect x="880" y="1706" width="11.25" height="180" fill="#0c12fc"/>
<rect x="888.75" y="1791" width="2.5" height="115" fill="#f7f622"/>
<rect x="893.75" y="1702.25" width="273.75" height="3.25" fill="#f90d16"/>
<rect x="893.75" y="1703.5" width="11.25" height="7.5" fill="#0c12fc"/>
<rect x="898.75" y="1711" width="3.75" height="160" fill="#101838"/>
<rect x="926.25" y="1706" width="5" height="15" fill="#0c12fc"/>
<rect x="926.25" y="1721" width="5" height="30" fill="#101838"/>
<rect x="937.5" y="1706" width="6.25" height="7.5" fill="#0c12fc"/>
<rect x="950" y="1706" width="10" height="15" fill="#0c12fc"/>
<rect x="951.25" y="1721" width="6.25" height="128.75" fill="#0c12fc"/>
<rect x="951.25" y="1849.75" width="3.75" height="43.75" fill="#101838"/>
<rect x="960" y="1706" width="8.75" height="10" fill="#0c12fc"/>
<rect x="978.75" y="1706" width="3.75" height="122.5" fill="#101838"/>
<rect x="980" y="1706" width="17.5" height="10" fill="#0c12fc"/>
<rect x="1002.5" y="1706" width="17.5" height="10" fill="#0c12fc"/>
<rect x="1008.75" y="1761" width="3.75" height="92.5" fill="#101838"/>
<rect x="1012.5" y="1761" width="5" height="65" fill="#c2c5b8"/>
<rect x="1017.5" y="1761" width="6.25" height="28.75" fill="#0c12fc"/>
<rect x="1017.5" y="1789.75" width="6.25" height="38.75" fill="#101838"/>
<rect x="1030" y="1706" width="20" height="10" fill="#0c12fc"/>
<rect x="1048.75" y="1761" width="3.75" height="140" fill="#101838"/>
<rect x="1072.5" y="1703.5" width="20" height="10" fill="#16ff00"/>
<rect x="1100" y="1706" width="6.25" height="90" fill="#0c12fc"/>
<rect x="1100" y="1796" width="6.25" height="36.25" fill="#101838"/>
<rect x="1115" y="1706" width="5" height="193.75" fill="#3a5a60"/>
<rect x="1126.25" y="1706" width="5" height="15" fill="#0c12fc"/>
<rect x="1143.75" y="1706" width="7.5" height="31.25" fill="#0c12fc"/>
<rect x="1143.75" y="1737.25" width="7.5" height="32.5" fill="#101838"/>
<rect x="1157.5" y="1706" width="6.25" height="43.75" fill="#3a5a60"/>
<rect x="37" y="1902.24" width="4.2" height="4.46" fill="#f7f622"/>
<rect x="41.2" y="1905.15" width="4.2" height="1.55" fill="#f7f622"/>
<rect x="45.4" y="1902.3" width="4.2" height="4.4" fill="#0a0a50"/>
<rect x="58" y="1902.22" width="4.2" height="4.48" fill="#0c12fc"/>
<rect x="66.4" y="1903.67" width="4.2" height="3.03" fill="#0c12fc"/>
<rect x="70.6" y="1901.52" width="4.2" height="5.18" fill="#f7f622"/>
<rect x="74.8" y="1901.51" width="4.2" height="5.19" fill="#0a0a50"/>
<rect x="83.2" y="1901.06" width="4.2" height="5.64" fill="#0c12fc"/>
<rect x="87.4" y="1900.76" width="4.2" height="5.94" fill="#0a0a50"/>
<rect x="91.6" y="1903.3" width="4.2" height="3.4" fill="#0c12fc"/>
<rect x="95.8" y="1901.23" width="4.2" height="5.47" fill="#0c12fc"/>
<rect x="108.4" y="1902.92" width="4.2" height="3.78" fill="#f7f622"/>
<rect x="112.6" y="1903.32" width="4.2" height="3.38" fill="#0a0a50"/>
<rect x="116.8" y="1903.47" width="4.2" height="3.23" fill="#f7f622"/>
<rect x="125.2" y="1904.34" width="4.2" height="2.36" fill="#f7f622"/>
<rect x="129.4" y="1903.57" width="4.2" height="3.13" fill="#0a0a50"/>
<rect x="137.8" y="1904.14" width="4.2" height="2.56" fill="#f7f622"/>
<rect x="142" y="1902.62" width="4.2" height="4.08" fill="#0c12fc"/>
<rect x="146.2" y="1901.5" width="4.2" height="5.2" fill="#0a0a50"/>
<rect x="150.4" y="1905.08" width="4.2" height="1.62" fill="#0a0a50"/>
<rect x="154.6" y="1904.28" width="4.2" height="2.42" fill="#f7f622"/>
<rect x="163" y="1904.85" width="4.2" height="1.85" fill="#f7f622"/>
<rect x="167.2" y="1903.96" width="4.2" height="2.74" fill="#f7f622"/>
<rect x="179.8" y="1903.54" width="4.2" height="3.16" fill="#f7f622"/>
<rect x="184" y="1903.06" width="4.2" height="3.64" fill="#0a0a50"/>
<rect x="188.2" y="1900.75" width="4.2" height="5.95" fill="#0a0a50"/>
<rect x="196.6" y="1904.35" width="4.2" height="2.35" fill="#0c12fc"/>
<rect x="205" y="1903.99" width="4.2" height="2.71" fill="#f7f622"/>
<rect x="209.2" y="1901.62" width="4.2" height="5.08" fill="#f7f622"/>
<rect x="213.4" y="1904.68" width="4.2" height="2.02" fill="#f7f622"/>
<rect x="221.8" y="1905.09" width="4.2" height="1.61" fill="#f7f622"/>
<rect x="234.4" y="1904.67" width="4.2" height="2.03" fill="#0a0a50"/>
<rect x="238.6" y="1903.61" width="4.2" height="3.09" fill="#0a0a50"/>
<rect x="247" y="1903.89" width="4.2" height="2.81" fill="#f7f622"/>
<rect x="251.2" y="1900.95" width="4.2" height="5.75" fill="#0a0a50"/>
<rect x="259.6" y="1903.92" width="4.2" height="2.78" fill="#f7f622"/>
<rect x="263.8" y="1905.18" width="4.2" height="1.52" fill="#f7f622"/>
<rect x="268" y="1901.21" width="4.2" height="5.49" fill="#0a0a50"/>
<rect x="272.2" y="1904.3" width="4.2" height="2.4" fill="#0a0a50"/>
<rect x="280.6" y="1902.39" width="4.2" height="4.31" fill="#f7f622"/>
<rect x="289" y="1902.55" width="4.2" height="4.15" fill="#0a0a50"/>
<rect x="297.4" y="1903.64" width="4.2" height="3.06" fill="#f7f622"/>
<rect x="305.8" y="1904.48" width="4.2" height="2.22" fill="#0c12fc"/>
<rect x="326.8" y="1901.65" width="4.2" height="5.05" fill="#0a0a50"/>
<rect x="339.4" y="1903.98" width="4.2" height="2.72" fill="#0a0a50"/>
<rect x="347.8" y="1902.8" width="4.2" height="3.9" fill="#0a0a50"/>
<rect x="352" y="1904.88" width="4.2" height="1.82" fill="#f7f622"/>
<rect x="356.2" y="1902.12" width="4.2" height="4.58" fill="#0c12fc"/>
<rect x="368.8" y="1904.39" width="4.2" height="2.31" fill="#0a0a50"/>
<rect x="373" y="1905.07" width="4.2" height="1.63" fill="#0a0a50"/>
<rect x="381.4" y="1904.95" width="4.2" height="1.75" fill="#f7f622"/>
<rect x="385.6" y="1901.22" width="4.2" height="5.48" fill="#f7f622"/>
<rect x="394" y="1901.43" width="4.2" height="5.27" fill="#f7f622"/>
<rect x="415" y="1904.81" width="4.2" height="1.89" fill="#f7f622"/>
<rect x="423.4" y="1904.51" width="4.2" height="2.19" fill="#16ff00"/>
<rect x="436" y="1900.83" width="4.2" height="5.87" fill="#0c12fc"/>
<rect x="457" y="1900.53" width="4.2" height="6.17" fill="#8c2ad8"/>
<rect x="465.4" y="1899.8" width="4.2" height="6.9" fill="#0c12fc"/>
<rect x="482.2" y="1901.93" width="4.2" height="4.77" fill="#0c12fc"/>
<rect x="490.6" y="1901.08" width="4.2" height="5.62" fill="#f7f622"/>
<rect x="494.8" y="1901.19" width="4.2" height="5.51" fill="#f7f622"/>
<rect x="499" y="1904.21" width="4.2" height="2.49" fill="#0c12fc"/>
<rect x="503.2" y="1902.67" width="4.2" height="4.03" fill="#0c12fc"/>
<rect x="507.4" y="1904.48" width="4.2" height="2.22" fill="#8c2ad8"/>
<rect x="511.6" y="1902.09" width="4.2" height="4.61" fill="#f7f622"/>
<rect x="520" y="1902.83" width="4.2" height="3.87" fill="#8c2ad8"/>
<rect x="524.2" y="1901.25" width="4.2" height="5.45" fill="#16ff00"/>
<rect x="528.4" y="1902.46" width="4.2" height="4.24" fill="#8c2ad8"/>
<rect x="536.8" y="1902.93" width="4.2" height="3.77" fill="#0c12fc"/>
<rect x="549.4" y="1900.5" width="4.2" height="6.2" fill="#0c12fc"/>
<rect x="553.6" y="1901.59" width="4.2" height="5.11" fill="#f7f622"/>
<rect x="562" y="1901.81" width="4.2" height="4.89" fill="#16ff00"/>
<rect x="566.2" y="1901.2" width="4.2" height="5.5" fill="#0c12fc"/>
<rect x="570.4" y="1904.14" width="4.2" height="2.56" fill="#16ff00"/>
<rect x="578.8" y="1902.84" width="4.2" height="3.86" fill="#16ff00"/>
<rect x="595.6" y="1904.5" width="4.2" height="2.2" fill="#0c12fc"/>
<rect x="599.8" y="1903.54" width="4.2" height="3.16" fill="#0c12fc"/>
<rect x="607" y="1900.63" width="4.2" height="6.07" fill="#c2c5b8"/>
<rect x="611.2" y="1903.59" width="4.2" height="3.11" fill="#c2c5b8"/>
<rect x="615.4" y="1900.43" width="4.2" height="6.27" fill="#c2c5b8"/>
<rect x="619.6" y="1902.17" width="4.2" height="4.53" fill="#f7f622"/>
<rect x="623.8" y="1899.29" width="4.2" height="7.41" fill="#f7f622"/>
<rect x="628" y="1899.34" width="4.2" height="7.36" fill="#f7f622"/>
<rect x="636.4" y="1901.09" width="4.2" height="5.61" fill="#c2c5b8"/>
<rect x="640.6" y="1901.62" width="4.2" height="5.08" fill="#c2c5b8"/>
<rect x="644.8" y="1905.13" width="4.2" height="1.57" fill="#f7f622"/>
<rect x="649" y="1903.01" width="4.2" height="3.69" fill="#f7f622"/>
<rect x="653.2" y="1899.65" width="4.2" height="7.05" fill="#f7f622"/>
<rect x="657.4" y="1898.76" width="4.2" height="7.94" fill="#f7f622"/>
<rect x="665.8" y="1901.03" width="4.2" height="5.67" fill="#f7f622"/>
<rect x="670" y="1901.06" width="4.2" height="5.64" fill="#f7f622"/>
<rect x="674.2" y="1904.58" width="4.2" height="2.12" fill="#f7f622"/>
<rect x="678.4" y="1903.94" width="4.2" height="2.76" fill="#f7f622"/>
<rect x="682.6" y="1902.05" width="4.2" height="4.65" fill="#f7f622"/>
<rect x="686.8" y="1904.53" width="4.2" height="2.17" fill="#f7f622"/>
<rect x="691" y="1904.43" width="4.2" height="2.27" fill="#f7f622"/>
<rect x="699.4" y="1901.78" width="4.2" height="4.92" fill="#f7f622"/>
<rect x="703.6" y="1898.87" width="4.2" height="7.83" fill="#f7f622"/>
<rect x="707.8" y="1902.24" width="4.2" height="4.46" fill="#f7f622"/>
<rect x="712" y="1902.48" width="4.2" height="4.22" fill="#f7f622"/>
<rect x="716.2" y="1902.64" width="4.2" height="4.06" fill="#f7f622"/>
<rect x="728.8" y="1904.27" width="4.2" height="2.43" fill="#c2c5b8"/>
<rect x="733" y="1902.33" width="4.2" height="4.37" fill="#c2c5b8"/>
<rect x="737.2" y="1898.78" width="4.2" height="7.92" fill="#f7f622"/>
<rect x="741.4" y="1901.5" width="4.2" height="5.2" fill="#f7f622"/>
<rect x="745.6" y="1903.24" width="4.2" height="3.46" fill="#f7f622"/>
<rect x="749.8" y="1901.56" width="4.2" height="5.14" fill="#f7f622"/>
<rect x="754" y="1904.56" width="4.2" height="2.14" fill="#f7f622"/>
<rect x="758.2" y="1898.81" width="4.2" height="7.89" fill="#c2c5b8"/>
<rect x="762.4" y="1901.81" width="4.2" height="4.89" fill="#f7f622"/>
<rect x="770.8" y="1898.98" width="4.2" height="7.72" fill="#f7f622"/>
<rect x="775" y="1903.57" width="4.2" height="3.13" fill="#c2c5b8"/>
<rect x="779.2" y="1903.58" width="4.2" height="3.12" fill="#c2c5b8"/>
<rect x="783.4" y="1903.04" width="4.2" height="3.66" fill="#c2c5b8"/>
<rect x="791.8" y="1901.55" width="4.2" height="5.15" fill="#c2c5b8"/>
<rect x="804.4" y="1901.01" width="4.2" height="5.69" fill="#f7f622"/>
<rect x="808.6" y="1902.7" width="4.2" height="4" fill="#f7f622"/>
<rect x="812.8" y="1900.17" width="4.2" height="6.53" fill="#f7f622"/>
<rect x="817" y="1899.01" width="4.2" height="7.69" fill="#f7f622"/>
<rect x="821.2" y="1899.13" width="4.2" height="7.57" fill="#f7f622"/>
<rect x="829.6" y="1899.95" width="4.2" height="6.75" fill="#f7f622"/>
<rect x="833.8" y="1900.7" width="4.2" height="6" fill="#f7f622"/>
<rect x="838" y="1902.03" width="4.2" height="4.67" fill="#f7f622"/>
<rect x="842.2" y="1902.73" width="4.2" height="3.97" fill="#f7f622"/>
<rect x="846.4" y="1902.8" width="4.2" height="3.9" fill="#f7f622"/>
<rect x="850.6" y="1902.31" width="4.2" height="4.39" fill="#f7f622"/>
<rect x="854.8" y="1900.48" width="4.2" height="6.22" fill="#f7f622"/>
<rect x="859" y="1899.3" width="4.2" height="7.4" fill="#c2c5b8"/>
<rect x="875.8" y="1899.85" width="4.2" height="6.85" fill="#c2c5b8"/>
<rect x="880" y="1902.56" width="4.2" height="4.14" fill="#f7f622"/>
<rect x="888.4" y="1904.7" width="3.6" height="2" fill="#f7f622"/>
<rect x="611.2" y="1702" width="4.2" height="7.76" fill="#f90d16"/>
<rect x="619.6" y="1702" width="4.2" height="1.97" fill="#f90d16"/>
<rect x="632.2" y="1702" width="4.2" height="4.37" fill="#16ff00"/>
<rect x="636.4" y="1702" width="4.2" height="3.74" fill="#f90d16"/>
<rect x="644.8" y="1702" width="4.2" height="4.52" fill="#16ff00"/>
<rect x="649" y="1702" width="4.2" height="9.36" fill="#0c12fc"/>
<rect x="653.2" y="1702" width="4.2" height="6.41" fill="#20d0a0"/>
<rect x="657.4" y="1702" width="4.2" height="5.42" fill="#16ff00"/>
<rect x="661.6" y="1702" width="4.2" height="4.18" fill="#20d0a0"/>
<rect x="665.8" y="1702" width="4.2" height="8.84" fill="#16ff00"/>
<rect x="670" y="1702" width="4.2" height="9.53" fill="#16ff00"/>
<rect x="674.2" y="1702" width="4.2" height="6.04" fill="#0c12fc"/>
<rect x="682.6" y="1702" width="4.2" height="7.61" fill="#16ff00"/>
<rect x="686.8" y="1702" width="4.2" height="2.79" fill="#16ff00"/>
<rect x="695.2" y="1702" width="4.2" height="2.13" fill="#0c12fc"/>
<rect x="699.4" y="1702" width="4.2" height="9.34" fill="#f90d16"/>
<rect x="703.6" y="1702" width="4.2" height="9.56" fill="#16ff00"/>
<rect x="707.8" y="1702" width="4.2" height="4.14" fill="#f90d16"/>
<rect x="716.2" y="1702" width="4.2" height="9.19" fill="#16ff00"/>
<rect x="737.2" y="1702" width="4.2" height="2.71" fill="#20d0a0"/>
<rect x="741.4" y="1702" width="4.2" height="1.63" fill="#16ff00"/>
<rect x="754" y="1702" width="4.2" height="1.85" fill="#16ff00"/>
<rect x="762.4" y="1702" width="4.2" height="5.75" fill="#20d0a0"/>
<rect x="770.8" y="1702" width="4.2" height="5.75" fill="#20d0a0"/>
<rect x="779.2" y="1702" width="4.2" height="5.43" fill="#0c12fc"/>
<rect x="783.4" y="1702" width="4.2" height="7.63" fill="#16ff00"/>
<rect x="787.6" y="1702" width="4.2" height="1.98" fill="#20d0a0"/>
<rect x="791.8" y="1702" width="4.2" height="1.98" fill="#16ff00"/>
<rect x="796" y="1702" width="4.2" height="4.15" fill="#16ff00"/>
<rect x="812.8" y="1702" width="4.2" height="7.19" fill="#16ff00"/>
<rect x="817" y="1702" width="4.2" height="9.22" fill="#16ff00"/>
<rect x="821.2" y="1702" width="4.2" height="3.62" fill="#0c12fc"/>
<rect x="825.4" y="1702" width="4.2" height="9.26" fill="#0c12fc"/>
<rect x="829.6" y="1702" width="4.2" height="4.21" fill="#0c12fc"/>
<rect x="833.8" y="1702" width="4.2" height="3.41" fill="#16ff00"/>
<rect x="842.2" y="1702" width="4.2" height="5.8" fill="#16ff00"/>
<rect x="854.8" y="1702" width="4.2" height="8.93" fill="#f90d16"/>
<rect x="859" y="1702" width="4.2" height="4.18" fill="#20d0a0"/>
<rect x="867.4" y="1702" width="4.2" height="5.62" fill="#16ff00"/>
<rect x="871.6" y="1702" width="4.2" height="8.2" fill="#16ff00"/>
<rect x="875.8" y="1702" width="4.2" height="8.7" fill="#20d0a0"/>
<rect x="884.2" y="1702" width="4.2" height="6.42" fill="#0c12fc"/>
<rect x="888.4" y="1702" width="3.6" height="4.24" fill="#20d0a0"/>
<rect x="894" y="1702" width="4.2" height="5.1" fill="#20d0a0"/>
<rect x="898.2" y="1702" width="4.2" height="1.54" fill="#0c12fc"/>
<rect x="902.4" y="1702" width="4.2" height="3.17" fill="#0c12fc"/>
<rect x="906.6" y="1702" width="4.2" height="4.01" fill="#16ff00"/>
<rect x="919.2" y="1702" width="4.2" height="3.15" fill="#f90d16"/>
<rect x="923.4" y="1702" width="4.2" height="8.2" fill="#f90d16"/>
<rect x="931.8" y="1702" width="4.2" height="4.93" fill="#0c12fc"/>
<rect x="944.4" y="1702" width="4.2" height="4.65" fill="#f90d16"/>
<rect x="948.6" y="1702" width="4.2" height="4.67" fill="#16ff00"/>
<rect x="957" y="1702" width="4.2" height="1.83" fill="#f90d16"/>
<rect x="969.6" y="1702" width="4.2" height="3.26" fill="#16ff00"/>
<rect x="973.8" y="1702" width="4.2" height="3.87" fill="#20d0a0"/>
<rect x="978" y="1702" width="4.2" height="6.74" fill="#f90d16"/>
<rect x="982.2" y="1702" width="4.2" height="7.98" fill="#f90d16"/>
<rect x="990.6" y="1702" width="4.2" height="7.47" fill="#20d0a0"/>
<rect x="999" y="1702" width="4.2" height="6.41" fill="#16ff00"/>
<rect x="1015.8" y="1702" width="4.2" height="1.82" fill="#20d0a0"/>
<rect x="1024.2" y="1702" width="4.2" height="6.51" fill="#f90d16"/>
<rect x="1028.4" y="1702" width="4.2" height="2.26" fill="#f90d16"/>
<rect x="1032.6" y="1702" width="4.2" height="3.32" fill="#20d0a0"/>
<rect x="1045.2" y="1702" width="4.2" height="6.65" fill="#20d0a0"/>
<rect x="1049.4" y="1702" width="4.2" height="6.29" fill="#0c12fc"/>
<rect x="1053.6" y="1702" width="4.2" height="5.87" fill="#16ff00"/>
<rect x="1057.8" y="1702" width="4.2" height="8.39" fill="#f90d16"/>
<rect x="1066.2" y="1702" width="4.2" height="4.55" fill="#20d0a0"/>
<rect x="1070.4" y="1702" width="4.2" height="6.98" fill="#20d0a0"/>
<rect x="1074.6" y="1702" width="4.2" height="1.94" fill="#16ff00"/>
<rect x="1078.8" y="1702" width="4.2" height="3.42" fill="#f90d16"/>
<rect x="1083" y="1702" width="4.2" height="7.59" fill="#f90d16"/>
<rect x="1087.2" y="1702" width="4.2" height="2.31" fill="#f90d16"/>
<rect x="1091.4" y="1702" width="4.2" height="2.56" fill="#20d0a0"/>
<rect x="1095.6" y="1702" width="4.2" height="8.12" fill="#20d0a0"/>
<rect x="1099.8" y="1702" width="4.2" height="3.19" fill="#16ff00"/>
<rect x="1104" y="1702" width="4.2" height="5.22" fill="#16ff00"/>
<rect x="1112.4" y="1702" width="4.2" height="4.7" fill="#f90d16"/>
<rect x="1116.6" y="1702" width="4.2" height="5.79" fill="#f90d16"/>
<rect x="1137.6" y="1702" width="4.2" height="6.33" fill="#16ff00"/>
<rect x="1141.8" y="1702" width="4.2" height="5.27" fill="#20d0a0"/>
<rect x="1146" y="1702" width="4.2" height="7.22" fill="#f90d16"/>
<rect x="1154.4" y="1702" width="4.2" height="4.97" fill="#20d0a0"/>
<rect x="1162.8" y="1702" width="3.2" height="4.01" fill="#16ff00"/>
<rect x="391.4" y="1701" width="2.2" height="207.7" fill="#000" opacity="0.85"/>
<rect x="604.4" y="1701" width="2.2" height="207.7" fill="#000" opacity="0.9"/>
<rect x="778.9" y="1701" width="2.2" height="207.7" fill="#000" opacity="0.6"/>
<rect x="891.4" y="1701" width="2.2" height="207.7" fill="#000" opacity="0.85"/>
<rect x="34.2" y="1701" width="2.5" height="207.7" fill="#000" opacity="0.8"/>
<rect x="1166.5" y="1701" width="2.5" height="207.7" fill="#000" opacity="0.75"/>
<rect x="34" y="1701" width="1135" height="1" fill="#000" opacity="0.25"/>
<rect x="34" y="1906.7" width="1135" height="2" fill="#000" opacity="0.85"/>
</g>
<g filter="url(#softt)">
<rect x="188" y="1717.7" width="56.3" height="42.6" fill="#fff" stroke="#111" stroke-width="1.4" shape-rendering="auto"/>
<text transform="translate(216.15 1748.7) scale(1 1.03)" font-size="28.8" fill="#0a0a0a" stroke="#0a0a0a" stroke-width="0.35" text-anchor="middle">EA</text>
<rect x="468" y="1717.7" width="59.6" height="42.6" fill="#fff" stroke="#111" stroke-width="1.4" shape-rendering="auto"/>
<text transform="translate(497.8 1748.7) scale(1 1.03)" font-size="28.8" fill="#0a0a0a" stroke="#0a0a0a" stroke-width="0.35" text-anchor="middle">AA</text>
<rect x="664.2" y="1717.7" width="70.1" height="42.6" fill="#fff" stroke="#111" stroke-width="1.4" shape-rendering="auto"/>
<text transform="translate(699.25 1748.7) scale(1 1.03)" font-size="28.8" fill="#0a0a0a" stroke="#0a0a0a" stroke-width="0.35" text-anchor="middle">Thai</text>
<rect x="778.2" y="1717.7" width="119.6" height="42.6" fill="#fff" stroke="#111" stroke-width="1.4" shape-rendering="auto"/>
<text transform="translate(838 1748.7) scale(1 1.03)" font-size="28.8" fill="#0a0a0a" stroke="#0a0a0a" stroke-width="0.35" text-anchor="middle">Chinese</text>
<rect x="980.7" y="1717.7" width="112.1" height="42.6" fill="#fff" stroke="#111" stroke-width="1.4" shape-rendering="auto"/>
<text transform="translate(1036.75 1748.7) scale(1 1.03)" font-size="28.8" fill="#0a0a0a" stroke="#0a0a0a" stroke-width="0.35" text-anchor="middle">Hmong</text>
<text transform="translate(36.3 1689.9) scale(1 1.03)" font-size="28.5" fill="#0a0a0a" stroke="#0a0a0a" stroke-width="0.3"><tspan font-weight="bold">(g)</tspan>&#160;K = 4, 17 dinucleotide markers only</text>
</g>
</svg></body></html>
